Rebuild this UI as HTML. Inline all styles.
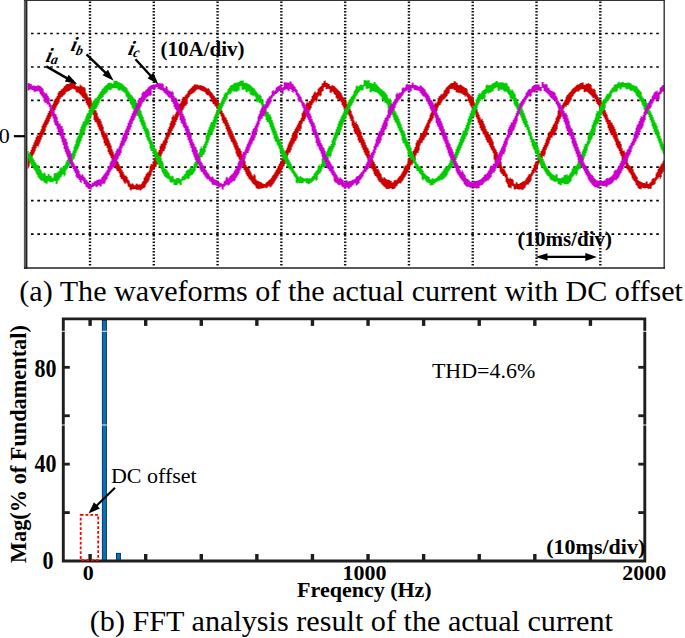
<!DOCTYPE html>
<html><head><meta charset="utf-8"><style>
html,body{margin:0;padding:0;background:#fff;}
body{width:685px;height:638px;overflow:hidden;font-family:"Liberation Serif",serif;}
svg{display:block;}
</style></head><body>
<svg width="685" height="638" viewBox="0 0 685 638">
<rect x="0" y="0" width="685" height="638" fill="#fff"/>
<line x1="31" y1="33.5" x2="661" y2="33.5" stroke="#000" stroke-width="1.7" stroke-dasharray="2.6 3.78"/>
<line x1="31" y1="67" x2="661" y2="67" stroke="#000" stroke-width="1.7" stroke-dasharray="2.6 3.78"/>
<line x1="31" y1="100.4" x2="661" y2="100.4" stroke="#000" stroke-width="1.7" stroke-dasharray="2.6 3.78"/>
<line x1="31" y1="133.8" x2="661" y2="133.8" stroke="#000" stroke-width="1.7" stroke-dasharray="2.6 3.78"/>
<line x1="31" y1="167.2" x2="661" y2="167.2" stroke="#000" stroke-width="1.7" stroke-dasharray="2.6 3.78"/>
<line x1="31" y1="200.6" x2="661" y2="200.6" stroke="#000" stroke-width="1.7" stroke-dasharray="2.6 3.78"/>
<line x1="31" y1="234.1" x2="661" y2="234.1" stroke="#000" stroke-width="1.7" stroke-dasharray="2.6 3.78"/>
<line x1="90" y1="1.5" x2="90" y2="266.5" stroke="#111" stroke-width="2.4" stroke-dasharray="1.5 1.7"/>
<line x1="153.79" y1="1.5" x2="153.79" y2="266.5" stroke="#111" stroke-width="2.4" stroke-dasharray="1.5 1.7"/>
<line x1="217.58" y1="1.5" x2="217.58" y2="266.5" stroke="#111" stroke-width="2.4" stroke-dasharray="1.5 1.7"/>
<line x1="281.37" y1="1.5" x2="281.37" y2="266.5" stroke="#111" stroke-width="2.4" stroke-dasharray="1.5 1.7"/>
<line x1="345.16" y1="1.5" x2="345.16" y2="266.5" stroke="#111" stroke-width="2.4" stroke-dasharray="1.5 1.7"/>
<line x1="408.95" y1="1.5" x2="408.95" y2="266.5" stroke="#111" stroke-width="2.4" stroke-dasharray="1.5 1.7"/>
<line x1="472.74" y1="1.5" x2="472.74" y2="266.5" stroke="#111" stroke-width="2.4" stroke-dasharray="1.5 1.7"/>
<line x1="536.53" y1="1.5" x2="536.53" y2="266.5" stroke="#111" stroke-width="2.4" stroke-dasharray="1.5 1.7"/>
<line x1="600.32" y1="1.5" x2="600.32" y2="266.5" stroke="#111" stroke-width="2.4" stroke-dasharray="1.5 1.7"/>
<path d="M27.6,157.82h1.05v10.63h-1.05zM28.6,155.65h1.05v10.75h-1.05zM29.6,152.06h1.05v10.47h-1.05zM30.6,149.84h1.05v10.55h-1.05zM31.6,146.94h1.05v10.39h-1.05zM32.6,144.69h1.05v10.44h-1.05zM33.6,142.32h1.05v11.13h-1.05zM34.6,140.05h1.05v11.16h-1.05zM35.6,137.15h1.05v11h-1.05zM36.6,134.88h1.05v11.01h-1.05zM37.6,135.96h1.05v10.8h-1.05zM38.6,133.7h1.05v10.79h-1.05zM39.6,131.56h1.05v10.57h-1.05zM40.6,129.33h1.05v10.54h-1.05zM41.6,125.87h1.05v11.38h-1.05zM42.6,123.67h1.05v11.34h-1.05zM43.6,121.86h1.05v11.72h-1.05zM44.6,119.7h1.05v11.66h-1.05zM45.6,117.43h1.05v9.95h-1.05zM46.6,115.32h1.05v9.88h-1.05zM47.6,112.96h1.05v10.8h-1.05zM48.6,110.92h1.05v10.71h-1.05zM49.6,109.7h1.05v9.4h-1.05zM50.6,107.74h1.05v9.29h-1.05zM51.6,105.28h1.05v8.13h-1.05zM52.6,103.42h1.05v7.99h-1.05zM53.6,100.6h1.05v11.24h-1.05zM54.6,98.86h1.05v11.07h-1.05zM55.6,97.66h1.05v10h-1.05zM56.6,96.06h1.05v9.81h-1.05zM57.6,92.64h1.05v11.54h-1.05zM58.6,91.2h1.05v11.33h-1.05zM59.6,91.1h1.05v7.8h-1.05zM60.6,89.84h1.05v7.57h-1.05zM61.6,88.98h1.05v7.98h-1.05zM62.6,87.91h1.05v7.74h-1.05zM63.6,86.37h1.05v8.77h-1.05zM64.6,85.52h1.05v8.53h-1.05zM65.6,84.52h1.05v7.76h-1.05zM66.6,83.89h1.05v7.53h-1.05zM67.6,84.11h1.05v7.45h-1.05zM68.6,83.72h1.05v7.25h-1.05zM69.6,82.88h1.05v7.24h-1.05zM70.6,82.74h1.05v7.07h-1.05zM71.6,80.81h1.05v7.87h-1.05zM72.6,80.81h1.05v7.94h-1.05zM73.6,82.38h1.05v6.9h-1.05zM74.6,82.58h1.05v7.08h-1.05zM75.6,86.03h1.05v5.93h-1.05zM76.6,86.48h1.05v6.15h-1.05zM77.6,86.05h1.05v6.51h-1.05zM78.6,86.73h1.05v6.75h-1.05zM79.6,84.54h1.05v9.87h-1.05zM80.6,85.46h1.05v10.13h-1.05zM81.6,86.15h1.05v10.54h-1.05zM82.6,87.29h1.05v10.8h-1.05zM83.6,86.95h1.05v11.6h-1.05zM84.6,88.29h1.05v11.84h-1.05zM85.6,92.63h1.05v10.61h-1.05zM86.6,94.16h1.05v10.83h-1.05zM87.6,96.8h1.05v10.01h-1.05zM88.6,98.49h1.05v10.21h-1.05zM89.6,97.78h1.05v12.84h-1.05zM90.6,99.61h1.05v13.01h-1.05zM91.6,102.63h1.05v10h-1.05zM92.6,104.58h1.05v10.14h-1.05zM93.6,107.63h1.05v12.47h-1.05zM94.6,109.69h1.05v12.59h-1.05zM95.6,110.54h1.05v11.8h-1.05zM96.6,112.69h1.05v11.9h-1.05zM97.6,116.38h1.05v10.85h-1.05zM98.6,118.59h1.05v10.92h-1.05zM99.6,118.99h1.05v11.93h-1.05zM100.6,121.25h1.05v11.98h-1.05zM101.6,124.14h1.05v12.77h-1.05zM102.6,126.44h1.05v12.79h-1.05zM103.6,130.99h1.05v12.37h-1.05zM104.6,133.3h1.05v12.38h-1.05zM105.6,132.43h1.05v13.37h-1.05zM106.6,134.76h1.05v13.36h-1.05zM107.6,138.24h1.05v13.8h-1.05zM108.6,140.57h1.05v13.77h-1.05zM109.6,143.24h1.05v12.61h-1.05zM110.6,145.55h1.05v12.55h-1.05zM111.6,149.19h1.05v10.84h-1.05zM112.6,151.46h1.05v10.75h-1.05zM113.6,154.41h1.05v9.71h-1.05zM114.6,156.62h1.05v9.59h-1.05zM115.6,158.94h1.05v10.41h-1.05zM116.6,161.09h1.05v10.26h-1.05zM117.6,162.1h1.05v9.27h-1.05zM118.6,164.15h1.05v9.09h-1.05zM119.6,166.27h1.05v10.78h-1.05zM120.6,168.19h1.05v10.57h-1.05zM121.6,170.13h1.05v9.09h-1.05zM122.6,171.9h1.05v8.84h-1.05zM123.6,174.18h1.05v8.45h-1.05zM124.6,175.77h1.05v8.18h-1.05zM125.6,175.59h1.05v6.86h-1.05zM126.6,176.95h1.05v6.58h-1.05zM127.6,179.43h1.05v7.01h-1.05zM128.6,180.55h1.05v6.73h-1.05zM129.6,183.28h1.05v6.5h-1.05zM130.6,184.13h1.05v6.25h-1.05zM131.6,183.24h1.05v5.89h-1.05zM132.6,183.79h1.05v5.66h-1.05zM133.6,185.13h1.05v3.85h-1.05zM134.6,185.37h1.05v3.68h-1.05zM135.6,183.67h1.05v6.17h-1.05zM136.6,183.44h1.05v6.34h-1.05zM137.6,184.72h1.05v5.21h-1.05zM138.6,184.19h1.05v5.43h-1.05zM139.6,184.73h1.05v5.97h-1.05zM140.6,183.89h1.05v6.23h-1.05zM141.6,182.22h1.05v6.8h-1.05zM142.6,181.11h1.05v7.08h-1.05zM143.6,177.66h1.05v10.5h-1.05zM144.6,176.31h1.05v10.77h-1.05zM145.6,173.95h1.05v10.47h-1.05zM146.6,172.38h1.05v10.73h-1.05zM147.6,172.23h1.05v9.47h-1.05zM148.6,170.47h1.05v9.72h-1.05zM149.6,165.9h1.05v11.28h-1.05zM150.6,164h1.05v11.5h-1.05zM151.6,164.6h1.05v7.21h-1.05zM152.6,162.57h1.05v7.39h-1.05zM153.6,159.64h1.05v9.61h-1.05zM154.6,157.52h1.05v9.76h-1.05zM155.6,155.43h1.05v11.2h-1.05zM156.6,153.25h1.05v11.31h-1.05zM157.6,152.14h1.05v11.82h-1.05zM158.6,149.91h1.05v11.9h-1.05zM159.6,146.09h1.05v12.63h-1.05zM160.6,143.83h1.05v12.67h-1.05zM161.6,143.52h1.05v10.18h-1.05zM162.6,141.25h1.05v10.2h-1.05zM163.6,139.86h1.05v11.2h-1.05zM164.6,137.6h1.05v11.2h-1.05zM165.6,134.4h1.05v10.87h-1.05zM166.6,132.14h1.05v10.85h-1.05zM167.6,129.07h1.05v10.16h-1.05zM168.6,126.84h1.05v10.13h-1.05zM169.6,123.25h1.05v11.92h-1.05zM170.6,121.05h1.05v11.87h-1.05zM171.6,117h1.05v14.05h-1.05zM172.6,114.85h1.05v13.99h-1.05zM173.6,116.15h1.05v10.99h-1.05zM174.6,114.06h1.05v10.91h-1.05zM175.6,112.27h1.05v9.75h-1.05zM176.6,110.24h1.05v9.65h-1.05zM177.6,105.92h1.05v11.66h-1.05zM178.6,103.98h1.05v11.54h-1.05zM179.6,103.34h1.05v11.6h-1.05zM180.6,101.51h1.05v11.46h-1.05zM181.6,98.52h1.05v13.06h-1.05zM182.6,96.81h1.05v12.89h-1.05zM183.6,96.99h1.05v10.8h-1.05zM184.6,95.43h1.05v10.61h-1.05zM185.6,94.6h1.05v11h-1.05zM186.6,93.2h1.05v10.79h-1.05zM187.6,91.09h1.05v7.3h-1.05zM188.6,89.87h1.05v7.06h-1.05zM189.6,88.91h1.05v6.69h-1.05zM190.6,87.89h1.05v6.45h-1.05zM191.6,86.73h1.05v7.33h-1.05zM192.6,85.93h1.05v7.09h-1.05zM193.6,84.87h1.05v7.55h-1.05zM194.6,84.3h1.05v7.32h-1.05zM195.6,84.65h1.05v5.5h-1.05zM196.6,84.32h1.05v5.3h-1.05zM197.6,85.22h1.05v4.32h-1.05zM198.6,85.13h1.05v4.16h-1.05zM199.6,85.19h1.05v5.08h-1.05zM200.6,85.21h1.05v5.23h-1.05zM201.6,85.7h1.05v5.37h-1.05zM202.6,85.96h1.05v5.56h-1.05zM203.6,86.39h1.05v5.35h-1.05zM204.6,86.89h1.05v5.57h-1.05zM205.6,87.91h1.05v6.36h-1.05zM206.6,88.65h1.05v6.61h-1.05zM207.6,88.03h1.05v6.98h-1.05zM208.6,89h1.05v7.23h-1.05zM209.6,90.73h1.05v6.9h-1.05zM210.6,91.91h1.05v7.15h-1.05zM211.6,93.08h1.05v9.23h-1.05zM212.6,94.47h1.05v9.47h-1.05zM213.6,95.78h1.05v8.74h-1.05zM214.6,97.34h1.05v8.96h-1.05zM215.6,98.16h1.05v8.6h-1.05zM216.6,99.88h1.05v8.79h-1.05zM217.6,101.02h1.05v10.01h-1.05zM218.6,102.89h1.05v10.17h-1.05zM219.6,107.26h1.05v7.04h-1.05zM220.6,109.25h1.05v7.17h-1.05zM221.6,110.84h1.05v9.61h-1.05zM222.6,112.93h1.05v9.72h-1.05zM223.6,114.54h1.05v9.13h-1.05zM224.6,116.71h1.05v9.22h-1.05zM225.6,117.8h1.05v11.44h-1.05zM226.6,120.02h1.05v11.51h-1.05zM227.6,122.38h1.05v12.13h-1.05zM228.6,124.65h1.05v12.17h-1.05zM229.6,126.93h1.05v12.18h-1.05zM230.6,129.23h1.05v12.21h-1.05zM231.6,131.26h1.05v11.28h-1.05zM232.6,133.58h1.05v11.29h-1.05zM233.6,136.15h1.05v11.26h-1.05zM234.6,138.47h1.05v11.24h-1.05zM235.6,140.38h1.05v13.47h-1.05zM236.6,142.7h1.05v13.43h-1.05zM237.6,145.41h1.05v11.87h-1.05zM238.6,147.71h1.05v11.81h-1.05zM239.6,148.7h1.05v11.71h-1.05zM240.6,150.96h1.05v11.62h-1.05zM241.6,154.23h1.05v10.85h-1.05zM242.6,156.44h1.05v10.72h-1.05zM243.6,159.21h1.05v10.7h-1.05zM244.6,161.33h1.05v10.54h-1.05zM245.6,164.92h1.05v9.21h-1.05zM246.6,166.94h1.05v9.02h-1.05zM247.6,166.29h1.05v11.2h-1.05zM248.6,168.18h1.05v10.98h-1.05zM249.6,170.78h1.05v9.05h-1.05zM250.6,172.5h1.05v8.8h-1.05zM251.6,174.79h1.05v7.94h-1.05zM252.6,176.33h1.05v7.67h-1.05zM253.6,173.91h1.05v10.76h-1.05zM254.6,175.22h1.05v10.49h-1.05zM255.6,179.51h1.05v8.47h-1.05zM256.6,180.57h1.05v8.2h-1.05zM257.6,180.67h1.05v8.17h-1.05zM258.6,181.45h1.05v7.92h-1.05zM259.6,181.89h1.05v6.7h-1.05zM260.6,182.37h1.05v6.49h-1.05zM261.6,183.26h1.05v5.1h-1.05zM262.6,183.43h1.05v4.94h-1.05zM263.6,184.02h1.05v3.65h-1.05zM264.6,183.72h1.05v3.83h-1.05zM265.6,182.6h1.05v5.58h-1.05zM266.6,182h1.05v5.81h-1.05zM267.6,181.01h1.05v5.62h-1.05zM268.6,180.12h1.05v5.88h-1.05zM269.6,179.28h1.05v8.25h-1.05zM270.6,178.12h1.05v8.53h-1.05zM271.6,176.37h1.05v9.11h-1.05zM272.6,174.96h1.05v9.39h-1.05zM273.6,173.46h1.05v9.2h-1.05zM274.6,171.85h1.05v9.46h-1.05zM275.6,169.98h1.05v9.59h-1.05zM276.6,168.19h1.05v9.83h-1.05zM277.6,165.91h1.05v10.24h-1.05zM278.6,163.98h1.05v10.45h-1.05zM279.6,162.82h1.05v10.95h-1.05zM280.6,160.77h1.05v11.12h-1.05zM281.6,158.66h1.05v10.65h-1.05zM282.6,156.52h1.05v10.79h-1.05zM283.6,153.56h1.05v12.45h-1.05zM284.6,151.37h1.05v12.55h-1.05zM285.6,149.77h1.05v10.36h-1.05zM286.6,147.53h1.05v10.43h-1.05zM287.6,144.51h1.05v10.53h-1.05zM288.6,142.25h1.05v10.57h-1.05zM289.6,140.34h1.05v12.25h-1.05zM290.6,138.07h1.05v12.26h-1.05zM291.6,134.85h1.05v12.23h-1.05zM292.6,132.58h1.05v12.23h-1.05zM293.6,131.07h1.05v12.55h-1.05zM294.6,128.82h1.05v12.53h-1.05zM295.6,127.36h1.05v13.05h-1.05zM296.6,125.14h1.05v13.01h-1.05zM297.6,123.13h1.05v9.76h-1.05zM298.6,120.95h1.05v9.71h-1.05zM299.6,120.22h1.05v10.78h-1.05zM300.6,118.08h1.05v10.71h-1.05zM301.6,113.23h1.05v10.52h-1.05zM302.6,111.15h1.05v10.44h-1.05zM303.6,108.92h1.05v12.38h-1.05zM304.6,106.92h1.05v12.27h-1.05zM305.6,103.4h1.05v13.38h-1.05zM306.6,101.48h1.05v13.26h-1.05zM307.6,102.94h1.05v9.79h-1.05zM308.6,101.13h1.05v9.64h-1.05zM309.6,100.93h1.05v9.2h-1.05zM310.6,99.25h1.05v9.03h-1.05zM311.6,96.12h1.05v8.79h-1.05zM312.6,94.58h1.05v8.6h-1.05zM313.6,92.52h1.05v9.35h-1.05zM314.6,91.16h1.05v9.13h-1.05zM315.6,93.08h1.05v9.12h-1.05zM316.6,91.9h1.05v8.89h-1.05zM317.6,88.77h1.05v8.04h-1.05zM318.6,87.8h1.05v7.8h-1.05zM319.6,86.73h1.05v9.7h-1.05zM320.6,85.98h1.05v9.46h-1.05zM321.6,83.42h1.05v8.29h-1.05zM322.6,82.9h1.05v8.07h-1.05zM323.6,80.9h1.05v6.66h-1.05zM324.6,80.62h1.05v6.47h-1.05zM325.6,82.84h1.05v6.42h-1.05zM326.6,82.79h1.05v6.27h-1.05zM327.6,83.87h1.05v4.95h-1.05zM328.6,83.94h1.05v5.11h-1.05zM329.6,85.82h1.05v6.67h-1.05zM330.6,86.13h1.05v6.87h-1.05zM331.6,85.08h1.05v6.38h-1.05zM332.6,85.64h1.05v6.61h-1.05zM333.6,85.84h1.05v8.23h-1.05zM334.6,86.63h1.05v8.48h-1.05zM335.6,87.98h1.05v9.66h-1.05zM336.6,88.99h1.05v9.92h-1.05zM337.6,89.83h1.05v8.88h-1.05zM338.6,91.06h1.05v9.13h-1.05zM339.6,91.63h1.05v9.01h-1.05zM340.6,93.05h1.05v9.24h-1.05zM341.6,95.29h1.05v9.64h-1.05zM342.6,96.89h1.05v9.85h-1.05zM343.6,98.23h1.05v11.19h-1.05zM344.6,99.99h1.05v11.38h-1.05zM345.6,101.82h1.05v9.7h-1.05zM346.6,103.71h1.05v9.86h-1.05zM347.6,105.25h1.05v8.92h-1.05zM348.6,107.25h1.05v9.05h-1.05zM349.6,108.67h1.05v10.07h-1.05zM350.6,110.77h1.05v10.18h-1.05zM351.6,114.17h1.05v11.63h-1.05zM352.6,116.35h1.05v11.72h-1.05zM353.6,120.4h1.05v11.37h-1.05zM354.6,122.63h1.05v11.43h-1.05zM355.6,121.61h1.05v12.82h-1.05zM356.6,123.89h1.05v12.86h-1.05zM357.6,125.26h1.05v14.96h-1.05zM358.6,127.56h1.05v14.98h-1.05zM359.6,129.77h1.05v13.05h-1.05zM360.6,132.09h1.05v13.05h-1.05zM361.6,135.8h1.05v11.9h-1.05zM362.6,138.13h1.05v11.87h-1.05zM363.6,139.84h1.05v12.67h-1.05zM364.6,142.15h1.05v12.63h-1.05zM365.6,145.07h1.05v11.06h-1.05zM366.6,147.37h1.05v10.99h-1.05zM367.6,148.53h1.05v12.23h-1.05zM368.6,150.78h1.05v12.13h-1.05zM369.6,154.69h1.05v11.49h-1.05zM370.6,156.87h1.05v11.36h-1.05zM371.6,158.2h1.05v11.13h-1.05zM372.6,160.3h1.05v10.97h-1.05zM373.6,162.07h1.05v12.26h-1.05zM374.6,164.06h1.05v12.06h-1.05zM375.6,167.28h1.05v9.23h-1.05zM376.6,169.13h1.05v8.99h-1.05zM377.6,168.83h1.05v11.44h-1.05zM378.6,170.52h1.05v11.19h-1.05zM379.6,172.64h1.05v9.57h-1.05zM380.6,174.13h1.05v9.3h-1.05zM381.6,177.17h1.05v7.64h-1.05zM382.6,178.43h1.05v7.36h-1.05zM383.6,177.02h1.05v9.81h-1.05zM384.6,178.03h1.05v9.54h-1.05zM385.6,178.94h1.05v9.82h-1.05zM386.6,179.66h1.05v9.58h-1.05zM387.6,179.57h1.05v9.19h-1.05zM388.6,179.98h1.05v8.99h-1.05zM389.6,180.6h1.05v7.56h-1.05zM390.6,180.65h1.05v7.51h-1.05zM391.6,182.6h1.05v6.75h-1.05zM392.6,182.23h1.05v6.95h-1.05zM393.6,180.44h1.05v8.32h-1.05zM394.6,179.77h1.05v8.56h-1.05zM395.6,180.29h1.05v6.18h-1.05zM396.6,179.33h1.05v6.45h-1.05zM397.6,177.65h1.05v6.24h-1.05zM398.6,176.43h1.05v6.52h-1.05zM399.6,175.82h1.05v8.01h-1.05zM400.6,174.36h1.05v8.28h-1.05zM401.6,172.29h1.05v9.31h-1.05zM402.6,170.63h1.05v9.57h-1.05zM403.6,167.38h1.05v10.87h-1.05zM404.6,165.56h1.05v11.1h-1.05zM405.6,165.47h1.05v9.86h-1.05zM406.6,163.51h1.05v10.06h-1.05zM407.6,159.48h1.05v12.23h-1.05zM408.6,157.41h1.05v12.39h-1.05zM409.6,155.1h1.05v11.64h-1.05zM410.6,152.95h1.05v11.77h-1.05zM411.6,153.18h1.05v11.57h-1.05zM412.6,150.98h1.05v11.67h-1.05zM413.6,149.29h1.05v13.16h-1.05zM414.6,147.05h1.05v13.23h-1.05zM415.6,142.64h1.05v12.59h-1.05zM416.6,140.37h1.05v12.63h-1.05zM417.6,140.31h1.05v12.4h-1.05zM418.6,138.04h1.05v12.41h-1.05zM419.6,135.24h1.05v10.33h-1.05zM420.6,132.97h1.05v10.32h-1.05zM421.6,133.26h1.05v9.61h-1.05zM422.6,131.02h1.05v9.59h-1.05zM423.6,128.79h1.05v11.04h-1.05zM424.6,126.57h1.05v11h-1.05zM425.6,124.58h1.05v11.88h-1.05zM426.6,122.4h1.05v11.83h-1.05zM427.6,120.12h1.05v9.93h-1.05zM428.6,117.99h1.05v9.86h-1.05zM429.6,114.5h1.05v9.33h-1.05zM430.6,112.44h1.05v9.24h-1.05zM431.6,108.7h1.05v11.91h-1.05zM432.6,106.71h1.05v11.8h-1.05zM433.6,104.44h1.05v10.96h-1.05zM434.6,102.55h1.05v10.83h-1.05zM435.6,103.55h1.05v9.08h-1.05zM436.6,101.77h1.05v8.93h-1.05zM437.6,97.98h1.05v9.44h-1.05zM438.6,96.33h1.05v9.26h-1.05zM439.6,95.4h1.05v9.55h-1.05zM440.6,93.9h1.05v9.34h-1.05zM441.6,94.53h1.05v6.86h-1.05zM442.6,93.2h1.05v6.64h-1.05zM443.6,90.62h1.05v8.9h-1.05zM444.6,89.49h1.05v8.66h-1.05zM445.6,87.71h1.05v9.54h-1.05zM446.6,86.79h1.05v9.3h-1.05zM447.6,85.63h1.05v8.47h-1.05zM448.6,84.93h1.05v8.24h-1.05zM449.6,83.82h1.05v5.52h-1.05zM450.6,83.36h1.05v5.3h-1.05zM451.6,83.12h1.05v6.11h-1.05zM452.6,82.89h1.05v5.93h-1.05zM453.6,81.36h1.05v8.78h-1.05zM454.6,81.37h1.05v8.65h-1.05zM455.6,82.6h1.05v9.59h-1.05zM456.6,82.72h1.05v9.76h-1.05zM457.6,84.88h1.05v7.7h-1.05zM458.6,85.25h1.05v7.91h-1.05zM459.6,84.52h1.05v8.32h-1.05zM460.6,85.12h1.05v8.56h-1.05zM461.6,85.71h1.05v7.83h-1.05zM462.6,86.55h1.05v8.08h-1.05zM463.6,86.99h1.05v8.34h-1.05zM464.6,88.05h1.05v8.59h-1.05zM465.6,87.96h1.05v7.74h-1.05zM466.6,89.23h1.05v7.99h-1.05zM467.6,92.6h1.05v8.36h-1.05zM468.6,94.06h1.05v8.59h-1.05zM469.6,94.69h1.05v10.47h-1.05zM470.6,96.32h1.05v10.68h-1.05zM471.6,95.56h1.05v11h-1.05zM472.6,97.35h1.05v11.18h-1.05zM473.6,101.94h1.05v9.55h-1.05zM474.6,103.86h1.05v9.71h-1.05zM475.6,107.16h1.05v9.97h-1.05zM476.6,109.19h1.05v10.1h-1.05zM477.6,112.26h1.05v10.25h-1.05zM478.6,114.38h1.05v10.35h-1.05zM479.6,117.23h1.05v10.73h-1.05zM480.6,119.42h1.05v10.81h-1.05zM481.6,118.7h1.05v12.91h-1.05zM482.6,120.95h1.05v12.96h-1.05zM483.6,123.72h1.05v11.49h-1.05zM484.6,126h1.05v11.53h-1.05zM485.6,128.97h1.05v11.05h-1.05zM486.6,131.28h1.05v11.06h-1.05zM487.6,131.75h1.05v10.97h-1.05zM488.6,134.08h1.05v10.96h-1.05zM489.6,134.95h1.05v12.21h-1.05zM490.6,137.28h1.05v12.19h-1.05zM491.6,139.31h1.05v11.39h-1.05zM492.6,141.62h1.05v11.34h-1.05zM493.6,145.97h1.05v13.57h-1.05zM494.6,148.25h1.05v13.5h-1.05zM495.6,149.65h1.05v12.1h-1.05zM496.6,151.89h1.05v11.99h-1.05zM497.6,154.52h1.05v11.49h-1.05zM498.6,156.69h1.05v11.35h-1.05zM499.6,159.69h1.05v11.94h-1.05zM500.6,161.77h1.05v11.77h-1.05zM501.6,166.49h1.05v7.64h-1.05zM502.6,168.46h1.05v7.44h-1.05zM503.6,168.55h1.05v7.47h-1.05zM504.6,170.38h1.05v7.23h-1.05zM505.6,172.68h1.05v9.65h-1.05zM506.6,174.33h1.05v9.38h-1.05zM507.6,177.53h1.05v9.19h-1.05zM508.6,178.97h1.05v8.91h-1.05zM509.6,177.55h1.05v9.97h-1.05zM510.6,178.75h1.05v9.69h-1.05zM511.6,178.81h1.05v6.86h-1.05zM512.6,179.76h1.05v6.59h-1.05zM513.6,183.49h1.05v5.82h-1.05zM514.6,184.14h1.05v5.58h-1.05zM515.6,182.24h1.05v6.59h-1.05zM516.6,182.59h1.05v6.4h-1.05zM517.6,183.99h1.05v5.4h-1.05zM518.6,183.91h1.05v5.48h-1.05zM519.6,183.1h1.05v6.37h-1.05zM520.6,182.66h1.05v6.58h-1.05zM521.6,181.95h1.05v7.99h-1.05zM522.6,181.21h1.05v8.24h-1.05zM523.6,181.37h1.05v7.05h-1.05zM524.6,180.35h1.05v7.32h-1.05zM525.6,178.42h1.05v7.16h-1.05zM526.6,177.14h1.05v7.44h-1.05zM527.6,175.46h1.05v9.3h-1.05zM528.6,173.96h1.05v9.57h-1.05zM529.6,174.31h1.05v7.72h-1.05zM530.6,172.62h1.05v7.97h-1.05zM531.6,169.98h1.05v6.23h-1.05zM532.6,168.12h1.05v6.46h-1.05zM533.6,164.78h1.05v8.2h-1.05zM534.6,162.79h1.05v8.39h-1.05zM535.6,163.17h1.05v7.99h-1.05zM536.6,161.08h1.05v8.14h-1.05zM537.6,156.27h1.05v8.92h-1.05zM538.6,154.11h1.05v9.04h-1.05zM539.6,153.22h1.05v9.05h-1.05zM540.6,151h1.05v9.14h-1.05zM541.6,149.17h1.05v9.06h-1.05zM542.6,146.92h1.05v9.12h-1.05zM543.6,144.89h1.05v11.86h-1.05zM544.6,142.63h1.05v11.89h-1.05zM545.6,139.59h1.05v10.46h-1.05zM546.6,137.32h1.05v10.46h-1.05zM547.6,134.01h1.05v11.83h-1.05zM548.6,131.75h1.05v11.82h-1.05zM549.6,131.26h1.05v8.87h-1.05zM550.6,129.02h1.05v8.84h-1.05zM551.6,127.04h1.05v10.49h-1.05zM552.6,124.83h1.05v10.44h-1.05zM553.6,123.53h1.05v12.21h-1.05zM554.6,121.36h1.05v12.15h-1.05zM555.6,117.85h1.05v13.48h-1.05zM556.6,115.74h1.05v13.4h-1.05zM557.6,110.46h1.05v13.52h-1.05zM558.6,108.41h1.05v13.42h-1.05zM559.6,109.92h1.05v9.34h-1.05zM560.6,107.95h1.05v9.23h-1.05zM561.6,105.03h1.05v6.38h-1.05zM562.6,103.16h1.05v6.25h-1.05zM563.6,101.55h1.05v6.66h-1.05zM564.6,99.79h1.05v6.5h-1.05zM565.6,96.64h1.05v10.28h-1.05zM566.6,95.02h1.05v10.1h-1.05zM567.6,94.31h1.05v10.82h-1.05zM568.6,92.85h1.05v10.62h-1.05zM569.6,91.9h1.05v9.76h-1.05zM570.6,90.62h1.05v9.53h-1.05zM571.6,89.33h1.05v8.02h-1.05zM572.6,88.24h1.05v7.78h-1.05zM573.6,87.6h1.05v6.74h-1.05zM574.6,86.73h1.05v6.5h-1.05zM575.6,85.52h1.05v6.6h-1.05zM576.6,84.87h1.05v6.36h-1.05zM577.6,84.56h1.05v7.29h-1.05zM578.6,84.15h1.05v7.08h-1.05zM579.6,83.29h1.05v6.52h-1.05zM580.6,83.11h1.05v6.35h-1.05zM581.6,82.54h1.05v6.72h-1.05zM582.6,82.54h1.05v6.72h-1.05zM583.6,84.73h1.05v7.24h-1.05zM584.6,84.91h1.05v7.42h-1.05zM585.6,83.56h1.05v7.7h-1.05zM586.6,83.98h1.05v7.92h-1.05zM587.6,83.07h1.05v9.74h-1.05zM588.6,83.73h1.05v9.98h-1.05zM589.6,84.06h1.05v10.39h-1.05zM590.6,84.95h1.05v10.65h-1.05zM591.6,88.18h1.05v8.69h-1.05zM592.6,89.29h1.05v8.94h-1.05zM593.6,88.56h1.05v9.1h-1.05zM594.6,89.88h1.05v9.34h-1.05zM595.6,93.6h1.05v8.54h-1.05zM596.6,95.11h1.05v8.77h-1.05zM597.6,97h1.05v7.99h-1.05zM598.6,98.67h1.05v8.19h-1.05zM599.6,100.22h1.05v10.25h-1.05zM600.6,102.04h1.05v10.43h-1.05zM601.6,102.5h1.05v11.21h-1.05zM602.6,104.45h1.05v11.35h-1.05zM603.6,107.92h1.05v9.49h-1.05zM604.6,109.97h1.05v9.61h-1.05zM605.6,112.44h1.05v9.57h-1.05zM606.6,114.57h1.05v9.66h-1.05zM607.6,117.83h1.05v10.4h-1.05zM608.6,120.03h1.05v10.47h-1.05zM609.6,119.98h1.05v12.9h-1.05zM610.6,122.24h1.05v12.95h-1.05zM611.6,122.74h1.05v12.39h-1.05zM612.6,125.03h1.05v12.42h-1.05zM613.6,126.66h1.05v12.79h-1.05zM614.6,128.98h1.05v12.8h-1.05zM615.6,131.71h1.05v13.58h-1.05zM616.6,134.03h1.05v13.57h-1.05zM617.6,138.5h1.05v10.2h-1.05zM618.6,140.83h1.05v10.17h-1.05zM619.6,141.57h1.05v12.28h-1.05zM620.6,143.88h1.05v12.22h-1.05zM621.6,148.35h1.05v11.8h-1.05zM622.6,150.63h1.05v11.72h-1.05zM623.6,150.38h1.05v11.55h-1.05zM624.6,152.61h1.05v11.43h-1.05zM625.6,156.61h1.05v10.67h-1.05zM626.6,158.77h1.05v10.52h-1.05zM627.6,163.21h1.05v7.4h-1.05zM628.6,165.27h1.05v7.22h-1.05zM629.6,165.69h1.05v7.87h-1.05zM630.6,167.63h1.05v7.65h-1.05zM631.6,167.51h1.05v10.72h-1.05zM632.6,169.3h1.05v10.47h-1.05zM633.6,172.17h1.05v8.89h-1.05zM634.6,173.78h1.05v8.63h-1.05zM635.6,175.46h1.05v9.66h-1.05zM636.6,176.86h1.05v9.38h-1.05zM637.6,179.93h1.05v8.14h-1.05zM638.6,181.08h1.05v7.86h-1.05zM639.6,181.17h1.05v7.61h-1.05zM640.6,182.05h1.05v7.35h-1.05zM641.6,182.3h1.05v5.42h-1.05zM642.6,182.89h1.05v5.2h-1.05zM643.6,183.06h1.05v5.23h-1.05zM644.6,183.34h1.05v5.05h-1.05zM645.6,181.58h1.05v6.4h-1.05zM646.6,181.39h1.05v6.57h-1.05zM647.6,184h1.05v4.88h-1.05zM648.6,183.5h1.05v5.09h-1.05zM649.6,182.41h1.05v6.61h-1.05zM650.6,181.61h1.05v6.86h-1.05zM651.6,179.07h1.05v6.7h-1.05zM652.6,178h1.05v6.97h-1.05zM653.6,178.47h1.05v6.2h-1.05zM654.6,177.15h1.05v6.48h-1.05zM655.6,173.52h1.05v7.25h-1.05zM656.6,171.97h1.05v7.52h-1.05zM657.6,169.05h1.05v9.37h-1.05zM658.6,167.31h1.05v9.62h-1.05zM659.6,166.34h1.05v12.65h-1.05zM660.6,164.45h1.05v12.87h-1.05zM661.6,163.35h1.05v10.35h-1.05zM662.6,161.34h1.05v10.54h-1.05zM663.6,159.7h1.05v10.24h-1.05z" fill="#cc0000"/>
<path d="M27.6,151h1.05v8.33h-1.05zM28.6,153.35h1.05v8.12h-1.05zM29.6,153.19h1.05v10.14h-1.05zM30.6,155.4h1.05v9.9h-1.05zM31.6,156.31h1.05v9.61h-1.05zM32.6,158.36h1.05v9.35h-1.05zM33.6,160.08h1.05v9.67h-1.05zM34.6,161.94h1.05v9.39h-1.05zM35.6,163.34h1.05v10.24h-1.05zM36.6,165h1.05v9.97h-1.05zM37.6,164.46h1.05v12.9h-1.05zM38.6,165.89h1.05v12.63h-1.05zM39.6,169.09h1.05v10.61h-1.05zM40.6,170.29h1.05v10.35h-1.05zM41.6,172.81h1.05v7.68h-1.05zM42.6,173.78h1.05v7.45h-1.05zM43.6,172.6h1.05v9.77h-1.05zM44.6,173.33h1.05v9.57h-1.05zM45.6,175.51h1.05v7.92h-1.05zM46.6,176h1.05v7.75h-1.05zM47.6,173.89h1.05v7.46h-1.05zM48.6,174.14h1.05v7.33h-1.05zM49.6,175.76h1.05v6.45h-1.05zM50.6,175.7h1.05v6.51h-1.05zM51.6,177.85h1.05v4.12h-1.05zM52.6,177.54h1.05v4.26h-1.05zM53.6,173.61h1.05v7.74h-1.05zM54.6,173.08h1.05v7.9h-1.05zM55.6,173.32h1.05v10.88h-1.05zM56.6,172.57h1.05v11.07h-1.05zM57.6,171.75h1.05v9h-1.05zM58.6,170.79h1.05v9.21h-1.05zM59.6,168.24h1.05v9.7h-1.05zM60.6,167.06h1.05v9.93h-1.05zM61.6,168.2h1.05v7.1h-1.05zM62.6,166.81h1.05v7.35h-1.05zM63.6,165.76h1.05v10.81h-1.05zM64.6,164.17h1.05v11.06h-1.05zM65.6,161.74h1.05v8.74h-1.05zM66.6,159.96h1.05v8.99h-1.05zM67.6,159.07h1.05v8.61h-1.05zM68.6,157.11h1.05v8.86h-1.05zM69.6,155.83h1.05v8.76h-1.05zM70.6,153.7h1.05v8.99h-1.05zM71.6,152.66h1.05v9.05h-1.05zM72.6,150.39h1.05v9.27h-1.05zM73.6,146.6h1.05v12.15h-1.05zM74.6,144.22h1.05v12.34h-1.05zM75.6,140.23h1.05v12.87h-1.05zM76.6,137.76h1.05v13.01h-1.05zM77.6,135.86h1.05v12.97h-1.05zM78.6,133.33h1.05v13.07h-1.05zM79.6,129.18h1.05v14.27h-1.05zM80.6,126.62h1.05v14.32h-1.05zM81.6,124.34h1.05v13.72h-1.05zM82.6,121.8h1.05v13.71h-1.05zM83.6,121.28h1.05v11.75h-1.05zM84.6,118.78h1.05v11.69h-1.05zM85.6,115.81h1.05v11.54h-1.05zM86.6,113.41h1.05v11.43h-1.05zM87.6,112.71h1.05v12.91h-1.05zM88.6,110.42h1.05v12.75h-1.05zM89.6,108.03h1.05v11.4h-1.05zM90.6,105.88h1.05v11.19h-1.05zM91.6,102.87h1.05v12.11h-1.05zM92.6,100.88h1.05v11.87h-1.05zM93.6,100.1h1.05v10.91h-1.05zM94.6,98.29h1.05v10.65h-1.05zM95.6,98.57h1.05v10.48h-1.05zM96.6,96.96h1.05v10.2h-1.05zM97.6,95.21h1.05v9.74h-1.05zM98.6,93.8h1.05v9.47h-1.05zM99.6,91.95h1.05v8.21h-1.05zM100.6,90.74h1.05v7.94h-1.05zM101.6,89.19h1.05v8.93h-1.05zM102.6,88.19h1.05v8.69h-1.05zM103.6,86.73h1.05v8.28h-1.05zM104.6,85.93h1.05v8.06h-1.05zM105.6,84.88h1.05v8.25h-1.05zM106.6,84.27h1.05v8.06h-1.05zM107.6,82.93h1.05v7.33h-1.05zM108.6,82.51h1.05v7.17h-1.05zM109.6,83.11h1.05v7.1h-1.05zM110.6,82.87h1.05v6.97h-1.05zM111.6,83.63h1.05v4.83h-1.05zM112.6,83.57h1.05v4.72h-1.05zM113.6,80.87h1.05v7.27h-1.05zM114.6,80.88h1.05v7.36h-1.05zM115.6,80.72h1.05v7.47h-1.05zM116.6,80.91h1.05v7.59h-1.05zM117.6,81.94h1.05v8.42h-1.05zM118.6,82.29h1.05v8.56h-1.05zM119.6,82.82h1.05v6.87h-1.05zM120.6,83.34h1.05v7.03h-1.05zM121.6,83.85h1.05v7.08h-1.05zM122.6,84.54h1.05v7.26h-1.05zM123.6,85.79h1.05v6.59h-1.05zM124.6,86.65h1.05v6.79h-1.05zM125.6,87.31h1.05v9.23h-1.05zM126.6,88.35h1.05v9.44h-1.05zM127.6,90.48h1.05v8.88h-1.05zM128.6,91.7h1.05v9.11h-1.05zM129.6,93.5h1.05v9.93h-1.05zM130.6,94.9h1.05v10.17h-1.05zM131.6,95.61h1.05v12.14h-1.05zM132.6,97.19h1.05v12.39h-1.05zM133.6,98.45h1.05v12.16h-1.05zM134.6,100.2h1.05v12.41h-1.05zM135.6,101.16h1.05v12.39h-1.05zM136.6,103.08h1.05v12.62h-1.05zM137.6,104.03h1.05v12.49h-1.05zM138.6,106.11h1.05v12.7h-1.05zM139.6,108.82h1.05v13.28h-1.05zM140.6,111.04h1.05v13.45h-1.05zM141.6,114.53h1.05v11.9h-1.05zM142.6,116.88h1.05v12.04h-1.05zM143.6,119.84h1.05v11.3h-1.05zM144.6,122.28h1.05v11.39h-1.05zM145.6,125.58h1.05v11.39h-1.05zM146.6,128.09h1.05v11.43h-1.05zM147.6,128.64h1.05v12.54h-1.05zM148.6,131.18h1.05v12.53h-1.05zM149.6,137.25h1.05v11.31h-1.05zM150.6,139.79h1.05v11.24h-1.05zM151.6,141.37h1.05v9.66h-1.05zM152.6,143.87h1.05v9.53h-1.05zM153.6,145.73h1.05v9.85h-1.05zM154.6,148.16h1.05v9.68h-1.05zM155.6,149.18h1.05v11.85h-1.05zM156.6,151.5h1.05v11.64h-1.05zM157.6,153.66h1.05v10.77h-1.05zM158.6,155.84h1.05v10.53h-1.05zM159.6,155.73h1.05v11.87h-1.05zM160.6,157.74h1.05v11.6h-1.05zM161.6,160.75h1.05v11.54h-1.05zM162.6,162.56h1.05v11.26h-1.05zM163.6,167.18h1.05v8.53h-1.05zM164.6,168.79h1.05v8.25h-1.05zM165.6,168.99h1.05v8.46h-1.05zM166.6,170.37h1.05v8.19h-1.05zM167.6,171.87h1.05v6.97h-1.05zM168.6,173.02h1.05v6.72h-1.05zM169.6,175.53h1.05v6.75h-1.05zM170.6,176.44h1.05v6.52h-1.05zM171.6,175.6h1.05v6.33h-1.05zM172.6,176.27h1.05v6.14h-1.05zM173.6,178.95h1.05v6.13h-1.05zM174.6,179.39h1.05v5.97h-1.05zM175.6,178.15h1.05v6.74h-1.05zM176.6,178.35h1.05v6.61h-1.05zM177.6,177.9h1.05v5.62h-1.05zM178.6,177.77h1.05v5.74h-1.05zM179.6,179.19h1.05v6.09h-1.05zM180.6,178.83h1.05v6.24h-1.05zM181.6,176.61h1.05v4.2h-1.05zM182.6,176.04h1.05v4.37h-1.05zM183.6,174.55h1.05v5.85h-1.05zM184.6,173.76h1.05v6.04h-1.05zM185.6,171.12h1.05v8.02h-1.05zM186.6,170.11h1.05v8.24h-1.05zM187.6,170.1h1.05v9.43h-1.05zM188.6,168.88h1.05v9.66h-1.05zM189.6,167.6h1.05v8.56h-1.05zM190.6,166.17h1.05v8.8h-1.05zM191.6,168.43h1.05v6.83h-1.05zM192.6,166.8h1.05v7.08h-1.05zM193.6,163.49h1.05v8.99h-1.05zM194.6,161.67h1.05v9.24h-1.05zM195.6,157.5h1.05v10.38h-1.05zM196.6,155.5h1.05v10.63h-1.05zM197.6,154.36h1.05v10.92h-1.05zM198.6,152.2h1.05v11.16h-1.05zM199.6,148.72h1.05v10.42h-1.05zM200.6,146.42h1.05v10.63h-1.05zM201.6,148.25h1.05v9.07h-1.05zM202.6,145.84h1.05v9.25h-1.05zM203.6,144.17h1.05v10.42h-1.05zM204.6,141.68h1.05v10.56h-1.05zM205.6,135.25h1.05v12.63h-1.05zM206.6,132.71h1.05v12.72h-1.05zM207.6,129.81h1.05v13.02h-1.05zM208.6,127.25h1.05v13.05h-1.05zM209.6,124.5h1.05v12.52h-1.05zM210.6,121.97h1.05v12.5h-1.05zM211.6,122.34h1.05v11.93h-1.05zM212.6,119.87h1.05v11.86h-1.05zM213.6,116.53h1.05v13.04h-1.05zM214.6,114.15h1.05v12.91h-1.05zM215.6,111.93h1.05v11.38h-1.05zM216.6,109.67h1.05v11.21h-1.05zM217.6,105.57h1.05v11.34h-1.05zM218.6,103.46h1.05v11.13h-1.05zM219.6,103.23h1.05v9.06h-1.05zM220.6,101.28h1.05v8.81h-1.05zM221.6,98.82h1.05v9.46h-1.05zM222.6,97.06h1.05v9.2h-1.05zM223.6,94.17h1.05v9.76h-1.05zM224.6,92.61h1.05v9.49h-1.05zM225.6,92.85h1.05v7.17h-1.05zM226.6,91.49h1.05v6.9h-1.05zM227.6,89.08h1.05v6.18h-1.05zM228.6,87.92h1.05v5.92h-1.05zM229.6,86.02h1.05v8.77h-1.05zM230.6,85.07h1.05v8.54h-1.05zM231.6,85.1h1.05v6.51h-1.05zM232.6,84.34h1.05v6.29h-1.05zM233.6,83.31h1.05v8.61h-1.05zM234.6,82.74h1.05v8.42h-1.05zM235.6,82.8h1.05v9.16h-1.05zM236.6,82.42h1.05v9.01h-1.05zM237.6,82.2h1.05v8.56h-1.05zM238.6,82h1.05v8.43h-1.05zM239.6,80.72h1.05v5.64h-1.05zM240.6,80.7h1.05v5.54h-1.05zM241.6,80.4h1.05v9.35h-1.05zM242.6,80.46h1.05v9.45h-1.05zM243.6,82.83h1.05v6.53h-1.05zM244.6,83.06h1.05v6.65h-1.05zM245.6,82.86h1.05v9.02h-1.05zM246.6,83.26h1.05v9.16h-1.05zM247.6,83.74h1.05v7.16h-1.05zM248.6,84.3h1.05v7.32h-1.05zM249.6,85.07h1.05v9.07h-1.05zM250.6,85.8h1.05v9.25h-1.05zM251.6,86.75h1.05v8.43h-1.05zM252.6,87.66h1.05v8.63h-1.05zM253.6,88.37h1.05v7.1h-1.05zM254.6,89.45h1.05v7.32h-1.05zM255.6,91.3h1.05v9.64h-1.05zM256.6,92.56h1.05v9.88h-1.05zM257.6,93.64h1.05v7.62h-1.05zM258.6,95.07h1.05v7.86h-1.05zM259.6,94.31h1.05v8.4h-1.05zM260.6,95.92h1.05v8.65h-1.05zM261.6,99.39h1.05v8.97h-1.05zM262.6,101.18h1.05v9.21h-1.05zM263.6,104.06h1.05v10.17h-1.05zM264.6,106.02h1.05v10.39h-1.05zM265.6,109.4h1.05v10.66h-1.05zM266.6,111.51h1.05v10.86h-1.05zM267.6,111.89h1.05v10.01h-1.05zM268.6,114.14h1.05v10.18h-1.05zM269.6,114.44h1.05v12.73h-1.05zM270.6,116.81h1.05v12.86h-1.05zM271.6,119.97h1.05v12.49h-1.05zM272.6,122.43h1.05v12.56h-1.05zM273.6,125.65h1.05v13.11h-1.05zM274.6,128.17h1.05v13.14h-1.05zM275.6,130.84h1.05v11.33h-1.05zM276.6,133.38h1.05v11.3h-1.05zM277.6,136.27h1.05v10.05h-1.05zM278.6,138.8h1.05v9.96h-1.05zM279.6,139.64h1.05v12.55h-1.05zM280.6,142.13h1.05v12.41h-1.05zM281.6,145.31h1.05v11.84h-1.05zM282.6,147.72h1.05v11.65h-1.05zM283.6,149.9h1.05v10.06h-1.05zM284.6,152.19h1.05v9.83h-1.05zM285.6,152.93h1.05v10.83h-1.05zM286.6,155.07h1.05v10.58h-1.05zM287.6,158.15h1.05v9.5h-1.05zM288.6,160.12h1.05v9.23h-1.05zM289.6,161.76h1.05v8.11h-1.05zM290.6,163.54h1.05v7.83h-1.05zM291.6,166.24h1.05v6.69h-1.05zM292.6,167.8h1.05v6.42h-1.05zM293.6,170.26h1.05v6.14h-1.05zM294.6,171.59h1.05v5.88h-1.05zM295.6,173.19h1.05v9.49h-1.05zM296.6,174.29h1.05v9.24h-1.05zM297.6,176.28h1.05v6.24h-1.05zM298.6,177.14h1.05v6.03h-1.05zM299.6,176.07h1.05v6.89h-1.05zM300.6,176.7h1.05v6.71h-1.05zM301.6,177.47h1.05v5.64h-1.05zM302.6,177.86h1.05v5.49h-1.05zM303.6,178.39h1.05v2.99h-1.05zM304.6,178.54h1.05v2.87h-1.05zM305.6,178.24h1.05v5.06h-1.05zM306.6,178.06h1.05v5.19h-1.05zM307.6,178.49h1.05v5.78h-1.05zM308.6,178.08h1.05v5.93h-1.05zM309.6,178.66h1.05v4.57h-1.05zM310.6,178.04h1.05v4.74h-1.05zM311.6,176.54h1.05v5.36h-1.05zM312.6,175.7h1.05v5.55h-1.05zM313.6,173.54h1.05v6.58h-1.05zM314.6,172.48h1.05v6.79h-1.05zM315.6,170.98h1.05v10.07h-1.05zM316.6,169.71h1.05v10.31h-1.05zM317.6,166.08h1.05v8.88h-1.05zM318.6,164.61h1.05v9.13h-1.05zM319.6,165.63h1.05v7.62h-1.05zM320.6,163.95h1.05v7.87h-1.05zM321.6,158.25h1.05v10.45h-1.05zM322.6,156.38h1.05v10.7h-1.05zM323.6,155.93h1.05v11.82h-1.05zM324.6,153.9h1.05v12.07h-1.05zM325.6,152.62h1.05v11.43h-1.05zM326.6,150.42h1.05v11.66h-1.05zM327.6,148.09h1.05v10.18h-1.05zM328.6,145.76h1.05v10.38h-1.05zM329.6,146.37h1.05v11.54h-1.05zM330.6,143.94h1.05v11.7h-1.05zM331.6,140.21h1.05v11.63h-1.05zM332.6,137.7h1.05v11.76h-1.05zM333.6,134.83h1.05v12.7h-1.05zM334.6,132.28h1.05v12.78h-1.05zM335.6,129.23h1.05v11.2h-1.05zM336.6,126.68h1.05v11.23h-1.05zM337.6,123.57h1.05v12.23h-1.05zM338.6,121.05h1.05v12.2h-1.05zM339.6,119.32h1.05v13.45h-1.05zM340.6,116.86h1.05v13.36h-1.05zM341.6,115.1h1.05v11.96h-1.05zM342.6,112.74h1.05v11.83h-1.05zM343.6,110.6h1.05v11.52h-1.05zM344.6,108.37h1.05v11.34h-1.05zM345.6,107.57h1.05v10.04h-1.05zM346.6,105.49h1.05v9.82h-1.05zM347.6,101.82h1.05v10.74h-1.05zM348.6,99.91h1.05v10.49h-1.05zM349.6,98.43h1.05v9.49h-1.05zM350.6,96.71h1.05v9.23h-1.05zM351.6,95.73h1.05v8.94h-1.05zM352.6,94.21h1.05v8.66h-1.05zM353.6,90.89h1.05v9.51h-1.05zM354.6,89.57h1.05v9.24h-1.05zM355.6,86.35h1.05v10.04h-1.05zM356.6,85.23h1.05v9.79h-1.05zM357.6,86.65h1.05v6.5h-1.05zM358.6,85.74h1.05v6.26h-1.05zM359.6,84.9h1.05v5.91h-1.05zM360.6,84.19h1.05v5.7h-1.05zM361.6,85.36h1.05v5.47h-1.05zM362.6,84.83h1.05v5.29h-1.05zM363.6,80.29h1.05v6.3h-1.05zM364.6,79.95h1.05v6.15h-1.05zM365.6,80.55h1.05v8.54h-1.05zM366.6,80.39h1.05v8.42h-1.05zM367.6,80.26h1.05v8.13h-1.05zM368.6,80.26h1.05v8.05h-1.05zM369.6,82.98h1.05v9.26h-1.05zM370.6,83.07h1.05v9.36h-1.05zM371.6,83.44h1.05v7.65h-1.05zM372.6,83.7h1.05v7.78h-1.05zM373.6,81.92h1.05v9.61h-1.05zM374.6,82.35h1.05v9.75h-1.05zM375.6,84.12h1.05v7.95h-1.05zM376.6,84.72h1.05v8.11h-1.05zM377.6,86.2h1.05v7.37h-1.05zM378.6,86.97h1.05v7.56h-1.05zM379.6,88.18h1.05v7.51h-1.05zM380.6,89.12h1.05v7.72h-1.05zM381.6,89.63h1.05v10.06h-1.05zM382.6,90.75h1.05v10.28h-1.05zM383.6,91.1h1.05v10.27h-1.05zM384.6,92.39h1.05v10.5h-1.05zM385.6,93.61h1.05v9.53h-1.05zM386.6,95.08h1.05v9.78h-1.05zM387.6,97.81h1.05v10.96h-1.05zM388.6,99.47h1.05v11.21h-1.05zM389.6,98.15h1.05v10.76h-1.05zM390.6,99.98h1.05v11h-1.05zM391.6,104.08h1.05v10.88h-1.05zM392.6,106.07h1.05v11.1h-1.05zM393.6,108.76h1.05v11.18h-1.05zM394.6,110.9h1.05v11.37h-1.05zM395.6,112.47h1.05v10.96h-1.05zM396.6,114.75h1.05v11.12h-1.05zM397.6,116.57h1.05v11.78h-1.05zM398.6,118.97h1.05v11.89h-1.05zM399.6,121.87h1.05v10.99h-1.05zM400.6,124.35h1.05v11.06h-1.05zM401.6,127.49h1.05v13.11h-1.05zM402.6,130.02h1.05v13.12h-1.05zM403.6,131.26h1.05v12.33h-1.05zM404.6,133.81h1.05v12.28h-1.05zM405.6,137.63h1.05v10.52h-1.05zM406.6,140.16h1.05v10.42h-1.05zM407.6,141.39h1.05v13.26h-1.05zM408.6,143.86h1.05v13.11h-1.05zM409.6,145.73h1.05v12.22h-1.05zM410.6,148.11h1.05v12.02h-1.05zM411.6,151.59h1.05v8.28h-1.05zM412.6,153.86h1.05v8.05h-1.05zM413.6,156.36h1.05v7.48h-1.05zM414.6,158.47h1.05v7.22h-1.05zM415.6,161.62h1.05v7.73h-1.05zM416.6,163.55h1.05v7.46h-1.05zM417.6,164.56h1.05v6.69h-1.05zM418.6,166.29h1.05v6.41h-1.05zM419.6,166.26h1.05v7.63h-1.05zM420.6,167.78h1.05v7.36h-1.05zM421.6,169.26h1.05v10.15h-1.05zM422.6,170.54h1.05v9.89h-1.05zM423.6,172.88h1.05v6.12h-1.05zM424.6,173.93h1.05v5.88h-1.05zM425.6,174.97h1.05v6.83h-1.05zM426.6,175.78h1.05v6.62h-1.05zM427.6,176.33h1.05v6.49h-1.05zM428.6,176.9h1.05v6.32h-1.05zM429.6,179.1h1.05v6.13h-1.05zM430.6,179.43h1.05v5.98h-1.05zM431.6,178.17h1.05v6.9h-1.05zM432.6,178.26h1.05v6.8h-1.05zM433.6,178.91h1.05v4.6h-1.05zM434.6,178.68h1.05v4.73h-1.05zM435.6,177.88h1.05v4.16h-1.05zM436.6,177.43h1.05v4.31h-1.05zM437.6,176.05h1.05v5.15h-1.05zM438.6,175.38h1.05v5.33h-1.05zM439.6,174.22h1.05v6.32h-1.05zM440.6,173.33h1.05v6.52h-1.05zM441.6,171.63h1.05v8.41h-1.05zM442.6,170.53h1.05v8.63h-1.05zM443.6,168.7h1.05v9.84h-1.05zM444.6,167.39h1.05v10.08h-1.05zM445.6,167.48h1.05v9.03h-1.05zM446.6,165.96h1.05v9.28h-1.05zM447.6,164.9h1.05v7.61h-1.05zM448.6,163.18h1.05v7.87h-1.05zM449.6,160.46h1.05v9.07h-1.05zM450.6,158.55h1.05v9.33h-1.05zM451.6,156.6h1.05v10.59h-1.05zM452.6,154.52h1.05v10.84h-1.05zM453.6,154.53h1.05v10.09h-1.05zM454.6,152.31h1.05v10.31h-1.05zM455.6,148.91h1.05v11.08h-1.05zM456.6,146.56h1.05v11.27h-1.05zM457.6,144.53h1.05v10.65h-1.05zM458.6,142.08h1.05v10.81h-1.05zM459.6,139.02h1.05v11.41h-1.05zM460.6,136.5h1.05v11.53h-1.05zM461.6,133.42h1.05v12.38h-1.05zM462.6,130.87h1.05v12.44h-1.05zM463.6,130.49h1.05v11.06h-1.05zM464.6,127.94h1.05v11.07h-1.05zM465.6,125.07h1.05v11.64h-1.05zM466.6,122.56h1.05v11.59h-1.05zM467.6,118.74h1.05v12.57h-1.05zM468.6,116.3h1.05v12.47h-1.05zM469.6,113.27h1.05v11.79h-1.05zM470.6,110.94h1.05v11.64h-1.05zM471.6,108.63h1.05v11.07h-1.05zM472.6,106.43h1.05v10.87h-1.05zM473.6,105.23h1.05v11.69h-1.05zM474.6,103.19h1.05v11.46h-1.05zM475.6,99.2h1.05v11.14h-1.05zM476.6,97.34h1.05v10.89h-1.05zM477.6,94.71h1.05v10.54h-1.05zM478.6,93.03h1.05v10.27h-1.05zM479.6,93.92h1.05v7.02h-1.05zM480.6,92.44h1.05v6.75h-1.05zM481.6,91.25h1.05v9.21h-1.05zM482.6,89.98h1.05v8.94h-1.05zM483.6,89.83h1.05v9.32h-1.05zM484.6,88.76h1.05v9.07h-1.05zM485.6,85.25h1.05v8.68h-1.05zM486.6,84.38h1.05v8.45h-1.05zM487.6,85.54h1.05v8.21h-1.05zM488.6,84.86h1.05v8.01h-1.05zM489.6,85.26h1.05v7.55h-1.05zM490.6,84.78h1.05v7.38h-1.05zM491.6,83.45h1.05v8.16h-1.05zM492.6,83.15h1.05v8.02h-1.05zM493.6,82.49h1.05v6.21h-1.05zM494.6,82.37h1.05v6.09h-1.05zM495.6,80.89h1.05v6.51h-1.05zM496.6,80.89h1.05v6.52h-1.05zM497.6,82.36h1.05v8.51h-1.05zM498.6,82.49h1.05v8.62h-1.05zM499.6,82.22h1.05v7.2h-1.05zM500.6,82.52h1.05v7.33h-1.05zM501.6,82.15h1.05v7.45h-1.05zM502.6,82.61h1.05v7.59h-1.05zM503.6,82.9h1.05v8.3h-1.05zM504.6,83.54h1.05v8.47h-1.05zM505.6,82.61h1.05v8.6h-1.05zM506.6,83.42h1.05v8.79h-1.05zM507.6,85.68h1.05v8.38h-1.05zM508.6,86.66h1.05v8.59h-1.05zM509.6,89.27h1.05v8.83h-1.05zM510.6,90.42h1.05v9.06h-1.05zM511.6,89.3h1.05v9.78h-1.05zM512.6,90.64h1.05v10.02h-1.05zM513.6,92.39h1.05v12.18h-1.05zM514.6,93.9h1.05v12.42h-1.05zM515.6,97.47h1.05v10.35h-1.05zM516.6,99.17h1.05v10.59h-1.05zM517.6,102.27h1.05v9.68h-1.05zM518.6,104.14h1.05v9.91h-1.05zM519.6,102.76h1.05v12.85h-1.05zM520.6,104.79h1.05v13.07h-1.05zM521.6,108.28h1.05v12.3h-1.05zM522.6,110.46h1.05v12.49h-1.05zM523.6,113.08h1.05v11.59h-1.05zM524.6,115.39h1.05v11.74h-1.05zM525.6,118.51h1.05v8.96h-1.05zM526.6,120.92h1.05v9.07h-1.05zM527.6,124.15h1.05v9.21h-1.05zM528.6,126.64h1.05v9.26h-1.05zM529.6,129.68h1.05v9.93h-1.05zM530.6,132.22h1.05v9.93h-1.05zM531.6,136.34h1.05v9.77h-1.05zM532.6,138.89h1.05v9.72h-1.05zM533.6,139.19h1.05v11.09h-1.05zM534.6,141.71h1.05v10.98h-1.05zM535.6,141.6h1.05v12.08h-1.05zM536.6,144.06h1.05v11.92h-1.05zM537.6,147.3h1.05v11.11h-1.05zM538.6,149.66h1.05v10.9h-1.05zM539.6,155.01h1.05v9.84h-1.05zM540.6,157.24h1.05v9.6h-1.05zM541.6,157.04h1.05v9.84h-1.05zM542.6,159.11h1.05v9.58h-1.05zM543.6,161.34h1.05v9.14h-1.05zM544.6,163.23h1.05v8.87h-1.05zM545.6,165.96h1.05v8.02h-1.05zM546.6,167.64h1.05v7.74h-1.05zM547.6,168.62h1.05v7.49h-1.05zM548.6,170.09h1.05v7.22h-1.05zM549.6,171.4h1.05v7.82h-1.05zM550.6,172.63h1.05v7.57h-1.05zM551.6,173.68h1.05v6.54h-1.05zM552.6,174.67h1.05v6.31h-1.05zM553.6,175.04h1.05v6.48h-1.05zM554.6,175.79h1.05v6.28h-1.05zM555.6,173.89h1.05v7.4h-1.05zM556.6,174.41h1.05v7.23h-1.05zM557.6,178.09h1.05v6.14h-1.05zM558.6,178.37h1.05v6h-1.05zM559.6,178.29h1.05v7.04h-1.05zM560.6,178.29h1.05v7.05h-1.05zM561.6,177.56h1.05v5.8h-1.05zM562.6,177.28h1.05v5.94h-1.05zM563.6,175.25h1.05v9.2h-1.05zM564.6,174.75h1.05v9.36h-1.05zM565.6,174.85h1.05v9.76h-1.05zM566.6,174.13h1.05v9.94h-1.05zM567.6,175.73h1.05v8.38h-1.05zM568.6,174.79h1.05v8.58h-1.05zM569.6,172.94h1.05v9.14h-1.05zM570.6,171.79h1.05v9.37h-1.05zM571.6,168.71h1.05v9h-1.05zM572.6,167.35h1.05v9.24h-1.05zM573.6,167.27h1.05v7.93h-1.05zM574.6,165.7h1.05v8.18h-1.05zM575.6,165.65h1.05v9.99h-1.05zM576.6,163.89h1.05v10.24h-1.05zM577.6,160.35h1.05v10.27h-1.05zM578.6,158.41h1.05v10.52h-1.05zM579.6,156.77h1.05v12.52h-1.05zM580.6,154.66h1.05v12.76h-1.05zM581.6,151.49h1.05v10.46h-1.05zM582.6,149.24h1.05v10.68h-1.05zM583.6,146.23h1.05v12.32h-1.05zM584.6,143.85h1.05v12.51h-1.05zM585.6,143.74h1.05v9.26h-1.05zM586.6,141.27h1.05v9.41h-1.05zM587.6,135.15h1.05v11.43h-1.05zM588.6,132.62h1.05v11.54h-1.05zM589.6,131.29h1.05v11.2h-1.05zM590.6,128.73h1.05v11.26h-1.05zM591.6,125.02h1.05v13.48h-1.05zM592.6,122.47h1.05v13.48h-1.05zM593.6,120.01h1.05v14.23h-1.05zM594.6,117.51h1.05v14.17h-1.05zM595.6,113.49h1.05v12.95h-1.05zM596.6,111.07h1.05v12.84h-1.05zM597.6,111.57h1.05v12.18h-1.05zM598.6,109.26h1.05v12.02h-1.05zM599.6,106.28h1.05v11.52h-1.05zM600.6,104.11h1.05v11.32h-1.05zM601.6,101.6h1.05v11.91h-1.05zM602.6,99.6h1.05v11.67h-1.05zM603.6,99.34h1.05v10.95h-1.05zM604.6,97.52h1.05v10.7h-1.05zM605.6,95.41h1.05v8.05h-1.05zM606.6,93.78h1.05v7.78h-1.05zM607.6,94.03h1.05v7.3h-1.05zM608.6,92.6h1.05v7.03h-1.05zM609.6,90.8h1.05v7.4h-1.05zM610.6,89.58h1.05v7.14h-1.05zM611.6,88.06h1.05v5.33h-1.05zM612.6,87.04h1.05v5.08h-1.05zM613.6,85.09h1.05v7.46h-1.05zM614.6,84.27h1.05v7.23h-1.05zM615.6,84.45h1.05v7.66h-1.05zM616.6,83.82h1.05v7.46h-1.05zM617.6,82.27h1.05v6.13h-1.05zM618.6,81.82h1.05v5.97h-1.05zM619.6,82.75h1.05v7h-1.05zM620.6,82.49h1.05v6.87h-1.05zM621.6,82.1h1.05v5.36h-1.05zM622.6,82.01h1.05v5.25h-1.05zM623.6,83.05h1.05v4.33h-1.05zM624.6,83.05h1.05v4.43h-1.05zM625.6,82.84h1.05v6.47h-1.05zM626.6,83.01h1.05v6.58h-1.05zM627.6,82.36h1.05v6.33h-1.05zM628.6,82.7h1.05v6.46h-1.05zM629.6,82.89h1.05v7.69h-1.05zM630.6,83.39h1.05v7.84h-1.05zM631.6,84.67h1.05v5.61h-1.05zM632.6,85.34h1.05v5.78h-1.05zM633.6,85.36h1.05v6.7h-1.05zM634.6,86.21h1.05v6.89h-1.05zM635.6,85.72h1.05v9.67h-1.05zM636.6,86.73h1.05v9.88h-1.05zM637.6,88.54h1.05v8.87h-1.05zM638.6,89.73h1.05v9.09h-1.05zM639.6,90.66h1.05v10.09h-1.05zM640.6,92.04h1.05v10.33h-1.05zM641.6,96.13h1.05v8.56h-1.05zM642.6,97.68h1.05v8.81h-1.05zM643.6,98.68h1.05v10.98h-1.05zM644.6,100.41h1.05v11.22h-1.05zM645.6,101.06h1.05v10.74h-1.05zM646.6,102.96h1.05v10.97h-1.05zM647.6,105.72h1.05v9.15h-1.05zM648.6,107.78h1.05v9.36h-1.05zM649.6,110.39h1.05v9.62h-1.05zM650.6,112.6h1.05v9.8h-1.05zM651.6,114.63h1.05v11.6h-1.05zM652.6,116.96h1.05v11.74h-1.05zM653.6,119.84h1.05v11.93h-1.05zM654.6,122.27h1.05v12.03h-1.05zM655.6,123.49h1.05v12.05h-1.05zM656.6,126h1.05v12.09h-1.05zM657.6,129.27h1.05v11.47h-1.05zM658.6,131.81h1.05v11.46h-1.05zM659.6,135.76h1.05v11.07h-1.05zM660.6,138.3h1.05v11.01h-1.05zM661.6,141.35h1.05v9.44h-1.05zM662.6,143.86h1.05v9.31h-1.05zM663.6,146.56h1.05v8.76h-1.05z" fill="#00cc00"/>
<path d="M27.6,83.17h1.05v7.3h-1.05zM28.6,83.05h1.05v7.18h-1.05zM29.6,84.11h1.05v5.32h-1.05zM30.6,84.11h1.05v5.37h-1.05zM31.6,85.61h1.05v4.35h-1.05zM32.6,85.77h1.05v4.49h-1.05zM33.6,85.56h1.05v6.11h-1.05zM34.6,85.92h1.05v6.27h-1.05zM35.6,85.8h1.05v5.28h-1.05zM36.6,86.35h1.05v5.47h-1.05zM37.6,84.94h1.05v5.81h-1.05zM38.6,85.71h1.05v6.04h-1.05zM39.6,85.74h1.05v8.38h-1.05zM40.6,86.71h1.05v8.63h-1.05zM41.6,87.69h1.05v8.83h-1.05zM42.6,88.87h1.05v9.1h-1.05zM43.6,92h1.05v9.29h-1.05zM44.6,93.39h1.05v9.57h-1.05zM45.6,92.72h1.05v9.94h-1.05zM46.6,94.32h1.05v10.23h-1.05zM47.6,95.93h1.05v8.62h-1.05zM48.6,97.73h1.05v8.9h-1.05zM49.6,102.82h1.05v6.97h-1.05zM50.6,104.82h1.05v7.23h-1.05zM51.6,107.21h1.05v9h-1.05zM52.6,109.39h1.05v9.23h-1.05zM53.6,111.4h1.05v11.1h-1.05zM54.6,113.73h1.05v11.3h-1.05zM55.6,114.43h1.05v11.66h-1.05zM56.6,116.9h1.05v11.81h-1.05zM57.6,120.89h1.05v11.36h-1.05zM58.6,123.47h1.05v11.46h-1.05zM59.6,123.41h1.05v12.66h-1.05zM60.6,126.06h1.05v12.7h-1.05zM61.6,126.3h1.05v16.06h-1.05zM62.6,128.99h1.05v16.03h-1.05zM63.6,135.59h1.05v13.51h-1.05zM64.6,138.28h1.05v13.42h-1.05zM65.6,139.07h1.05v15.29h-1.05zM66.6,141.72h1.05v15.15h-1.05zM67.6,146.32h1.05v12.56h-1.05zM68.6,148.88h1.05v12.37h-1.05zM69.6,151.08h1.05v12.6h-1.05zM70.6,153.52h1.05v12.36h-1.05zM71.6,159.39h1.05v7.51h-1.05zM72.6,161.69h1.05v7.24h-1.05zM73.6,163.51h1.05v7.66h-1.05zM74.6,165.63h1.05v7.36h-1.05zM75.6,166.14h1.05v10.54h-1.05zM76.6,168.05h1.05v10.23h-1.05zM77.6,169.15h1.05v9.41h-1.05zM78.6,170.84h1.05v9.11h-1.05zM79.6,173.97h1.05v7.99h-1.05zM80.6,175.42h1.05v7.7h-1.05zM81.6,174.07h1.05v6.2h-1.05zM82.6,175.28h1.05v5.94h-1.05zM83.6,176.82h1.05v7.19h-1.05zM84.6,177.78h1.05v6.96h-1.05zM85.6,179.74h1.05v7.31h-1.05zM86.6,180.45h1.05v7.11h-1.05zM87.6,182.01h1.05v6.79h-1.05zM88.6,182.49h1.05v6.62h-1.05zM89.6,184.41h1.05v4.99h-1.05zM90.6,184.66h1.05v4.86h-1.05zM91.6,182.84h1.05v4.28h-1.05zM92.6,182.78h1.05v4.34h-1.05zM93.6,181.48h1.05v4.49h-1.05zM94.6,181.18h1.05v4.62h-1.05zM95.6,180.63h1.05v6.5h-1.05zM96.6,180.12h1.05v6.65h-1.05zM97.6,179.88h1.05v5.88h-1.05zM98.6,179.17h1.05v6.06h-1.05zM99.6,179.38h1.05v7.48h-1.05zM100.6,178.47h1.05v7.67h-1.05zM101.6,176.66h1.05v7.69h-1.05zM102.6,175.55h1.05v7.89h-1.05zM103.6,174.3h1.05v9.63h-1.05zM104.6,173h1.05v9.85h-1.05zM105.6,171.45h1.05v8.69h-1.05zM106.6,169.96h1.05v8.92h-1.05zM107.6,167.35h1.05v8.95h-1.05zM108.6,165.67h1.05v9.19h-1.05zM109.6,162.5h1.05v9.73h-1.05zM110.6,160.66h1.05v9.96h-1.05zM111.6,159.58h1.05v9.68h-1.05zM112.6,157.57h1.05v9.91h-1.05zM113.6,155.25h1.05v12.25h-1.05zM114.6,153.1h1.05v12.47h-1.05zM115.6,150.85h1.05v11.68h-1.05zM116.6,148.58h1.05v11.87h-1.05zM117.6,148.73h1.05v10.02h-1.05zM118.6,146.35h1.05v10.18h-1.05zM119.6,143.3h1.05v12.02h-1.05zM120.6,140.85h1.05v12.14h-1.05zM121.6,137.61h1.05v10.7h-1.05zM122.6,135.12h1.05v10.78h-1.05zM123.6,133.03h1.05v12.17h-1.05zM124.6,130.52h1.05v12.2h-1.05zM125.6,128.39h1.05v12.9h-1.05zM126.6,125.9h1.05v12.89h-1.05zM127.6,122.97h1.05v11.87h-1.05zM128.6,120.54h1.05v11.8h-1.05zM129.6,118.39h1.05v11.34h-1.05zM130.6,116.04h1.05v11.22h-1.05zM131.6,113.59h1.05v10.41h-1.05zM132.6,111.34h1.05v10.26h-1.05zM133.6,109.9h1.05v10.21h-1.05zM134.6,107.79h1.05v10.01h-1.05zM135.6,105.08h1.05v10.61h-1.05zM136.6,103.12h1.05v10.39h-1.05zM137.6,99.87h1.05v10.81h-1.05zM138.6,98.08h1.05v10.57h-1.05zM139.6,98.07h1.05v10.25h-1.05zM140.6,96.46h1.05v10h-1.05zM141.6,93.02h1.05v10.84h-1.05zM142.6,91.6h1.05v10.59h-1.05zM143.6,92.08h1.05v9.31h-1.05zM144.6,90.85h1.05v9.07h-1.05zM145.6,89.75h1.05v8.54h-1.05zM146.6,88.72h1.05v8.3h-1.05zM147.6,87.4h1.05v9.06h-1.05zM148.6,86.56h1.05v8.84h-1.05zM149.6,85.86h1.05v10.18h-1.05zM150.6,85.21h1.05v9.98h-1.05zM151.6,85.01h1.05v4.27h-1.05zM152.6,84.56h1.05v4.09h-1.05zM153.6,84.83h1.05v5.16h-1.05zM154.6,84.57h1.05v5.01h-1.05zM155.6,83.47h1.05v4.01h-1.05zM156.6,83.4h1.05v3.89h-1.05zM157.6,83.36h1.05v5.87h-1.05zM158.6,83.37h1.05v5.99h-1.05zM159.6,83.18h1.05v6.49h-1.05zM160.6,83.38h1.05v6.63h-1.05zM161.6,83.46h1.05v7.14h-1.05zM162.6,83.87h1.05v7.32h-1.05zM163.6,87.55h1.05v5.23h-1.05zM164.6,88.15h1.05v5.43h-1.05zM165.6,85.97h1.05v8.5h-1.05zM166.6,86.78h1.05v8.73h-1.05zM167.6,89.84h1.05v6.91h-1.05zM168.6,90.85h1.05v7.17h-1.05zM169.6,90.87h1.05v6.73h-1.05zM170.6,92.09h1.05v7h-1.05zM171.6,90.76h1.05v11.16h-1.05zM172.6,92.19h1.05v11.45h-1.05zM173.6,96.1h1.05v10.87h-1.05zM174.6,97.75h1.05v11.15h-1.05zM175.6,97.51h1.05v12.37h-1.05zM176.6,99.35h1.05v12.64h-1.05zM177.6,102.53h1.05v9.41h-1.05zM178.6,104.57h1.05v9.67h-1.05zM179.6,109.07h1.05v11.26h-1.05zM180.6,111.28h1.05v11.49h-1.05zM181.6,111.63h1.05v12.41h-1.05zM182.6,114h1.05v12.6h-1.05zM183.6,115.89h1.05v12.17h-1.05zM184.6,118.39h1.05v12.31h-1.05zM185.6,122.55h1.05v11.9h-1.05zM186.6,125.14h1.05v11.98h-1.05zM187.6,126.34h1.05v13.55h-1.05zM188.6,129h1.05v13.58h-1.05zM189.6,132.09h1.05v13.3h-1.05zM190.6,134.78h1.05v13.26h-1.05zM191.6,139.34h1.05v12.59h-1.05zM192.6,142.02h1.05v12.49h-1.05zM193.6,143.84h1.05v13.32h-1.05zM194.6,146.47h1.05v13.17h-1.05zM195.6,147.52h1.05v13.21h-1.05zM196.6,150.06h1.05v13h-1.05zM197.6,153.58h1.05v10.06h-1.05zM198.6,156h1.05v9.82h-1.05zM199.6,159.12h1.05v10.7h-1.05zM200.6,161.38h1.05v10.43h-1.05zM201.6,162.88h1.05v9.15h-1.05zM202.6,164.95h1.05v8.85h-1.05zM203.6,166.35h1.05v8.93h-1.05zM204.6,168.21h1.05v8.63h-1.05zM205.6,170.11h1.05v8h-1.05zM206.6,171.75h1.05v7.7h-1.05zM207.6,172.91h1.05v6.39h-1.05zM208.6,174.31h1.05v6.11h-1.05zM209.6,176.15h1.05v5.26h-1.05zM210.6,177.3h1.05v5h-1.05zM211.6,176.36h1.05v8.17h-1.05zM212.6,177.27h1.05v7.94h-1.05zM213.6,178.96h1.05v5.7h-1.05zM214.6,179.62h1.05v5.51h-1.05zM215.6,180.02h1.05v5.6h-1.05zM216.6,180.45h1.05v5.44h-1.05zM217.6,181.85h1.05v5.82h-1.05zM218.6,182.04h1.05v5.69h-1.05zM219.6,183.21h1.05v3.64h-1.05zM220.6,183.08h1.05v3.75h-1.05zM221.6,184.11h1.05v5.48h-1.05zM222.6,183.77h1.05v5.62h-1.05zM223.6,181.13h1.05v5.61h-1.05zM224.6,180.58h1.05v5.77h-1.05zM225.6,177.4h1.05v7.66h-1.05zM226.6,176.65h1.05v7.84h-1.05zM227.6,178.5h1.05v7.31h-1.05zM228.6,177.55h1.05v7.5h-1.05zM229.6,175.96h1.05v7.68h-1.05zM230.6,174.81h1.05v7.89h-1.05zM231.6,174.28h1.05v7.95h-1.05zM232.6,172.94h1.05v8.17h-1.05zM233.6,170.91h1.05v10.55h-1.05zM234.6,169.38h1.05v10.78h-1.05zM235.6,168.24h1.05v9.72h-1.05zM236.6,166.53h1.05v9.96h-1.05zM237.6,162.54h1.05v12.38h-1.05zM238.6,160.66h1.05v12.61h-1.05zM239.6,159.83h1.05v10.76h-1.05zM240.6,157.78h1.05v10.99h-1.05zM241.6,154.5h1.05v11.66h-1.05zM242.6,152.32h1.05v11.87h-1.05zM243.6,151.69h1.05v9.18h-1.05zM244.6,149.39h1.05v9.36h-1.05zM245.6,146.76h1.05v8.61h-1.05zM246.6,144.36h1.05v8.76h-1.05zM247.6,142.13h1.05v10.92h-1.05zM248.6,139.67h1.05v11.03h-1.05zM249.6,137.68h1.05v10.17h-1.05zM250.6,135.18h1.05v10.24h-1.05zM251.6,131.33h1.05v12.41h-1.05zM252.6,128.82h1.05v12.43h-1.05zM253.6,128.12h1.05v12.15h-1.05zM254.6,125.64h1.05v12.13h-1.05zM255.6,123.59h1.05v10.73h-1.05zM256.6,121.17h1.05v10.65h-1.05zM257.6,116.25h1.05v11.07h-1.05zM258.6,113.92h1.05v10.95h-1.05zM259.6,110.78h1.05v10.57h-1.05zM260.6,108.56h1.05v10.4h-1.05zM261.6,107.56h1.05v10.86h-1.05zM262.6,105.48h1.05v10.67h-1.05zM263.6,106.15h1.05v10.05h-1.05zM264.6,104.23h1.05v9.83h-1.05zM265.6,101.29h1.05v9.01h-1.05zM266.6,99.54h1.05v8.77h-1.05zM267.6,98.15h1.05v9.47h-1.05zM268.6,96.58h1.05v9.22h-1.05zM269.6,96.27h1.05v7.57h-1.05zM270.6,94.89h1.05v7.32h-1.05zM271.6,91.24h1.05v6.64h-1.05zM272.6,90.05h1.05v6.39h-1.05zM273.6,91.34h1.05v4.39h-1.05zM274.6,90.34h1.05v4.16h-1.05zM275.6,87.66h1.05v6.34h-1.05zM276.6,86.86h1.05v6.13h-1.05zM277.6,86.31h1.05v5.57h-1.05zM278.6,85.7h1.05v5.38h-1.05zM279.6,84.76h1.05v6.48h-1.05zM280.6,84.34h1.05v6.31h-1.05zM281.6,87.38h1.05v6.64h-1.05zM282.6,87.16h1.05v6.5h-1.05zM283.6,82.35h1.05v7.6h-1.05zM284.6,82.32h1.05v7.49h-1.05zM285.6,82.56h1.05v6.81h-1.05zM286.6,82.62h1.05v6.93h-1.05zM287.6,82.53h1.05v8.21h-1.05zM288.6,82.78h1.05v8.36h-1.05zM289.6,81.22h1.05v7.87h-1.05zM290.6,81.67h1.05v8.05h-1.05zM291.6,83.67h1.05v8.27h-1.05zM292.6,84.32h1.05v8.48h-1.05zM293.6,85.79h1.05v5.49h-1.05zM294.6,86.64h1.05v5.73h-1.05zM295.6,88.9h1.05v6.2h-1.05zM296.6,89.96h1.05v6.46h-1.05zM297.6,92.8h1.05v7.65h-1.05zM298.6,94.07h1.05v7.93h-1.05zM299.6,95.49h1.05v5.97h-1.05zM300.6,96.97h1.05v6.26h-1.05zM301.6,99.97h1.05v6.2h-1.05zM302.6,101.66h1.05v6.48h-1.05zM303.6,102.66h1.05v8.46h-1.05zM304.6,104.55h1.05v8.74h-1.05zM305.6,106.66h1.05v8.85h-1.05zM306.6,108.74h1.05v9.11h-1.05zM307.6,108.83h1.05v10.97h-1.05zM308.6,111.08h1.05v11.2h-1.05zM309.6,113.44h1.05v10.53h-1.05zM310.6,115.84h1.05v10.71h-1.05zM311.6,118.98h1.05v12.37h-1.05zM312.6,121.51h1.05v12.5h-1.05zM313.6,122.93h1.05v12.15h-1.05zM314.6,125.55h1.05v12.23h-1.05zM315.6,129.16h1.05v13.8h-1.05zM316.6,131.84h1.05v13.81h-1.05zM317.6,134.87h1.05v12h-1.05zM318.6,137.57h1.05v11.96h-1.05zM319.6,140.37h1.05v10.91h-1.05zM320.6,143.05h1.05v10.8h-1.05zM321.6,144.39h1.05v12.53h-1.05zM322.6,147.01h1.05v12.36h-1.05zM323.6,148.35h1.05v11.38h-1.05zM324.6,150.86h1.05v11.17h-1.05zM325.6,155.1h1.05v10.84h-1.05zM326.6,157.48h1.05v10.59h-1.05zM327.6,158.11h1.05v10.81h-1.05zM328.6,160.33h1.05v10.53h-1.05zM329.6,161.81h1.05v9.8h-1.05zM330.6,163.84h1.05v9.5h-1.05zM331.6,165.44h1.05v9.62h-1.05zM332.6,167.26h1.05v9.32h-1.05zM333.6,170.55h1.05v10.72h-1.05zM334.6,172.14h1.05v10.42h-1.05zM335.6,173.87h1.05v8.87h-1.05zM336.6,175.22h1.05v8.6h-1.05zM337.6,177.32h1.05v7.45h-1.05zM338.6,178.42h1.05v7.2h-1.05zM339.6,177.37h1.05v7.39h-1.05zM340.6,178.22h1.05v7.17h-1.05zM341.6,179.28h1.05v7.44h-1.05zM342.6,179.89h1.05v7.26h-1.05zM343.6,182.17h1.05v6h-1.05zM344.6,182.55h1.05v5.85h-1.05zM345.6,180.32h1.05v7.05h-1.05zM346.6,180.46h1.05v6.93h-1.05zM347.6,181.39h1.05v7.4h-1.05zM348.6,181.21h1.05v7.52h-1.05zM349.6,181.02h1.05v6.36h-1.05zM350.6,180.64h1.05v6.5h-1.05zM351.6,180.08h1.05v5.69h-1.05zM352.6,179.49h1.05v5.85h-1.05zM353.6,179.51h1.05v4.28h-1.05zM354.6,178.71h1.05v4.46h-1.05zM355.6,177.1h1.05v8.69h-1.05zM356.6,176.1h1.05v8.88h-1.05zM357.6,175.98h1.05v8.15h-1.05zM358.6,174.79h1.05v8.37h-1.05zM359.6,173.66h1.05v6.63h-1.05zM360.6,172.28h1.05v6.85h-1.05zM361.6,171.59h1.05v6.17h-1.05zM362.6,170.02h1.05v6.4h-1.05zM363.6,167.71h1.05v6.12h-1.05zM364.6,165.95h1.05v6.35h-1.05zM365.6,163.67h1.05v8.15h-1.05zM366.6,161.75h1.05v8.39h-1.05zM367.6,158.57h1.05v10.39h-1.05zM368.6,156.49h1.05v10.61h-1.05zM369.6,155.3h1.05v9.98h-1.05zM370.6,153.09h1.05v10.18h-1.05zM371.6,152.11h1.05v8.23h-1.05zM372.6,149.79h1.05v8.4h-1.05zM373.6,145.95h1.05v9.27h-1.05zM374.6,143.53h1.05v9.42h-1.05zM375.6,139.2h1.05v10.48h-1.05zM376.6,136.73h1.05v10.58h-1.05zM377.6,133.99h1.05v12.59h-1.05zM378.6,131.49h1.05v12.65h-1.05zM379.6,130.5h1.05v12.4h-1.05zM380.6,127.99h1.05v12.41h-1.05zM381.6,125.14h1.05v11.4h-1.05zM382.6,122.67h1.05v11.36h-1.05zM383.6,120.21h1.05v12.32h-1.05zM384.6,117.81h1.05v12.23h-1.05zM385.6,117.34h1.05v11.68h-1.05zM386.6,115.03h1.05v11.55h-1.05zM387.6,109.84h1.05v11.04h-1.05zM388.6,107.65h1.05v10.87h-1.05zM389.6,105.61h1.05v12.02h-1.05zM390.6,103.56h1.05v11.81h-1.05zM391.6,103.86h1.05v9.29h-1.05zM392.6,101.98h1.05v9.06h-1.05zM393.6,100.62h1.05v9.21h-1.05zM394.6,98.91h1.05v8.97h-1.05zM395.6,94.15h1.05v10.62h-1.05zM396.6,92.62h1.05v10.36h-1.05zM397.6,93.89h1.05v7.56h-1.05zM398.6,92.55h1.05v7.31h-1.05zM399.6,93.07h1.05v6.12h-1.05zM400.6,91.92h1.05v5.88h-1.05zM401.6,88.31h1.05v7.57h-1.05zM402.6,87.35h1.05v7.34h-1.05zM403.6,88.12h1.05v4.63h-1.05zM404.6,87.36h1.05v4.42h-1.05zM405.6,84.41h1.05v6.69h-1.05zM406.6,83.85h1.05v6.5h-1.05zM407.6,84.8h1.05v6.49h-1.05zM408.6,84.42h1.05v6.33h-1.05zM409.6,85.12h1.05v6.57h-1.05zM410.6,84.93h1.05v6.43h-1.05zM411.6,82.79h1.05v5.47h-1.05zM412.6,82.79h1.05v5.38h-1.05zM413.6,84.79h1.05v4.92h-1.05zM414.6,84.89h1.05v5.04h-1.05zM415.6,85.2h1.05v4.95h-1.05zM416.6,85.5h1.05v5.11h-1.05zM417.6,86.17h1.05v4.23h-1.05zM418.6,86.66h1.05v4.41h-1.05zM419.6,85.13h1.05v7.67h-1.05zM420.6,85.83h1.05v7.88h-1.05zM421.6,86.65h1.05v8.75h-1.05zM422.6,87.54h1.05v8.99h-1.05zM423.6,88.5h1.05v7.92h-1.05zM424.6,89.61h1.05v8.19h-1.05zM425.6,91.83h1.05v8.52h-1.05zM426.6,93.15h1.05v8.79h-1.05zM427.6,94.28h1.05v9.87h-1.05zM428.6,95.81h1.05v10.16h-1.05zM429.6,98.28h1.05v10.44h-1.05zM430.6,100.01h1.05v10.72h-1.05zM431.6,100.69h1.05v10.45h-1.05zM432.6,102.62h1.05v10.72h-1.05zM433.6,104.84h1.05v10.49h-1.05zM434.6,106.95h1.05v10.74h-1.05zM435.6,110.49h1.05v12.41h-1.05zM436.6,112.77h1.05v12.63h-1.05zM437.6,115.1h1.05v11.83h-1.05zM438.6,117.53h1.05v11.99h-1.05zM439.6,118.21h1.05v12.67h-1.05zM440.6,120.76h1.05v12.79h-1.05zM441.6,123.29h1.05v13.26h-1.05zM442.6,125.93h1.05v13.32h-1.05zM443.6,129.07h1.05v12.1h-1.05zM444.6,131.75h1.05v12.1h-1.05zM445.6,133.27h1.05v13.86h-1.05zM446.6,135.96h1.05v13.79h-1.05zM447.6,139.88h1.05v13.45h-1.05zM448.6,142.54h1.05v13.33h-1.05zM449.6,144.35h1.05v13.31h-1.05zM450.6,146.95h1.05v13.14h-1.05zM451.6,149h1.05v10.86h-1.05zM452.6,151.49h1.05v10.64h-1.05zM453.6,154.78h1.05v11.18h-1.05zM454.6,157.13h1.05v10.92h-1.05zM455.6,160.94h1.05v10.63h-1.05zM456.6,163.12h1.05v10.35h-1.05zM457.6,164.72h1.05v10h-1.05zM458.6,166.71h1.05v9.7h-1.05zM459.6,169.87h1.05v8.15h-1.05zM460.6,171.64h1.05v7.85h-1.05zM461.6,170.23h1.05v10.35h-1.05zM462.6,171.76h1.05v10.06h-1.05zM463.6,173.83h1.05v10.35h-1.05zM464.6,175.12h1.05v10.08h-1.05zM465.6,178.02h1.05v8.13h-1.05zM466.6,179.07h1.05v7.89h-1.05zM467.6,179.37h1.05v7.25h-1.05zM468.6,180.17h1.05v7.04h-1.05zM469.6,181.5h1.05v6.09h-1.05zM470.6,182.06h1.05v5.91h-1.05zM471.6,182.23h1.05v4.75h-1.05zM472.6,182.55h1.05v4.61h-1.05zM473.6,180.89h1.05v7.19h-1.05zM474.6,180.98h1.05v7.1h-1.05zM475.6,181.06h1.05v7.45h-1.05zM476.6,180.83h1.05v7.57h-1.05zM477.6,180.44h1.05v7.85h-1.05zM478.6,180h1.05v8h-1.05zM479.6,179.55h1.05v6.29h-1.05zM480.6,178.91h1.05v6.45h-1.05zM481.6,177.79h1.05v7.21h-1.05zM482.6,176.95h1.05v7.39h-1.05zM483.6,175.32h1.05v7.33h-1.05zM484.6,174.28h1.05v7.53h-1.05zM485.6,174.22h1.05v7.28h-1.05zM486.6,172.99h1.05v7.5h-1.05zM487.6,171.21h1.05v9.62h-1.05zM488.6,169.78h1.05v9.84h-1.05zM489.6,166.91h1.05v11.37h-1.05zM490.6,165.29h1.05v11.6h-1.05zM491.6,165.9h1.05v8.18h-1.05zM492.6,164.11h1.05v8.42h-1.05zM493.6,163.48h1.05v9.31h-1.05zM494.6,161.53h1.05v9.54h-1.05zM495.6,158.95h1.05v9.43h-1.05zM496.6,156.84h1.05v9.65h-1.05zM497.6,154.78h1.05v11.57h-1.05zM498.6,152.54h1.05v11.77h-1.05zM499.6,150.58h1.05v11.59h-1.05zM500.6,148.24h1.05v11.76h-1.05zM501.6,146.3h1.05v10.32h-1.05zM502.6,143.87h1.05v10.46h-1.05zM503.6,141.08h1.05v13.15h-1.05zM504.6,138.6h1.05v13.25h-1.05zM505.6,137.29h1.05v9.8h-1.05zM506.6,134.79h1.05v9.85h-1.05zM507.6,129.19h1.05v11.26h-1.05zM508.6,126.69h1.05v11.26h-1.05zM509.6,124.9h1.05v11.79h-1.05zM510.6,122.44h1.05v11.74h-1.05zM511.6,122.39h1.05v11.01h-1.05zM512.6,120.01h1.05v10.91h-1.05zM513.6,118.32h1.05v11.36h-1.05zM514.6,116.04h1.05v11.22h-1.05zM515.6,113.23h1.05v10.7h-1.05zM516.6,111.07h1.05v10.52h-1.05zM517.6,108.54h1.05v7.89h-1.05zM518.6,106.53h1.05v7.68h-1.05zM519.6,103.02h1.05v7.17h-1.05zM520.6,101.18h1.05v6.93h-1.05zM521.6,100.41h1.05v7.11h-1.05zM522.6,98.74h1.05v6.86h-1.05zM523.6,97.25h1.05v6.54h-1.05zM524.6,95.76h1.05v6.28h-1.05zM525.6,92.79h1.05v7.25h-1.05zM526.6,91.5h1.05v7h-1.05zM527.6,89.88h1.05v7.34h-1.05zM528.6,88.77h1.05v7.1h-1.05zM529.6,89.46h1.05v7.59h-1.05zM530.6,88.56h1.05v7.37h-1.05zM531.6,86.39h1.05v6.41h-1.05zM532.6,85.68h1.05v6.21h-1.05zM533.6,84.99h1.05v7.75h-1.05zM534.6,84.47h1.05v7.57h-1.05zM535.6,84.79h1.05v6.08h-1.05zM536.6,84.46h1.05v5.93h-1.05zM537.6,84.64h1.05v6.04h-1.05zM538.6,84.5h1.05v5.91h-1.05zM539.6,86.97h1.05v4.03h-1.05zM540.6,86.97h1.05v4.03h-1.05zM541.6,81.98h1.05v5.65h-1.05zM542.6,82.12h1.05v5.78h-1.05zM543.6,84.14h1.05v6.95h-1.05zM544.6,84.48h1.05v7.11h-1.05zM545.6,83.99h1.05v8.6h-1.05zM546.6,84.53h1.05v8.79h-1.05zM547.6,87.64h1.05v6.87h-1.05zM548.6,88.37h1.05v7.09h-1.05zM549.6,90.04h1.05v7h-1.05zM550.6,90.98h1.05v7.25h-1.05zM551.6,90.63h1.05v8.1h-1.05zM552.6,91.79h1.05v8.37h-1.05zM553.6,91.56h1.05v8.14h-1.05zM554.6,92.92h1.05v8.42h-1.05zM555.6,95.98h1.05v7.97h-1.05zM556.6,97.55h1.05v8.26h-1.05zM557.6,100.59h1.05v7.54h-1.05zM558.6,102.37h1.05v7.82h-1.05zM559.6,103.28h1.05v8.74h-1.05zM560.6,105.25h1.05v9.01h-1.05zM561.6,107.04h1.05v9.48h-1.05zM562.6,109.19h1.05v9.73h-1.05zM563.6,110.89h1.05v11.18h-1.05zM564.6,113.21h1.05v11.39h-1.05zM565.6,112.63h1.05v15.85h-1.05zM566.6,115.09h1.05v16.01h-1.05zM567.6,118.26h1.05v14.44h-1.05zM568.6,120.83h1.05v14.55h-1.05zM569.6,125.18h1.05v11.15h-1.05zM570.6,127.83h1.05v11.2h-1.05zM571.6,129.12h1.05v14.34h-1.05zM572.6,131.8h1.05v14.33h-1.05zM573.6,135.29h1.05v13.31h-1.05zM574.6,137.98h1.05v13.24h-1.05zM575.6,140.79h1.05v13.32h-1.05zM576.6,143.44h1.05v13.19h-1.05zM577.6,146.87h1.05v13.14h-1.05zM578.6,149.45h1.05v12.95h-1.05zM579.6,151.68h1.05v12.32h-1.05zM580.6,154.14h1.05v12.09h-1.05zM581.6,155.73h1.05v11.2h-1.05zM582.6,158.04h1.05v10.93h-1.05zM583.6,162.43h1.05v8.69h-1.05zM584.6,164.57h1.05v8.4h-1.05zM585.6,165.78h1.05v9.18h-1.05zM586.6,167.72h1.05v8.88h-1.05zM587.6,169.34h1.05v10h-1.05zM588.6,171.05h1.05v9.71h-1.05zM589.6,173.1h1.05v9.19h-1.05zM590.6,174.58h1.05v8.9h-1.05zM591.6,174.87h1.05v9.83h-1.05zM592.6,176.11h1.05v9.57h-1.05zM593.6,177.88h1.05v8.78h-1.05zM594.6,178.87h1.05v8.55h-1.05zM595.6,179.73h1.05v7.51h-1.05zM596.6,180.48h1.05v7.31h-1.05zM597.6,180.38h1.05v7.68h-1.05zM598.6,180.88h1.05v7.52h-1.05zM599.6,179.98h1.05v5.06h-1.05zM600.6,180.25h1.05v4.92h-1.05zM601.6,181.02h1.05v4.95h-1.05zM602.6,181.01h1.05v4.96h-1.05zM603.6,180.41h1.05v5.8h-1.05zM604.6,180.14h1.05v5.93h-1.05zM605.6,178.56h1.05v8.63h-1.05zM606.6,178.08h1.05v8.78h-1.05zM607.6,178.4h1.05v6.89h-1.05zM608.6,177.71h1.05v7.06h-1.05zM609.6,177.28h1.05v7.34h-1.05zM610.6,176.39h1.05v7.53h-1.05zM611.6,175.45h1.05v7.81h-1.05zM612.6,174.36h1.05v8.01h-1.05zM613.6,171.13h1.05v9.71h-1.05zM614.6,169.85h1.05v9.92h-1.05zM615.6,170.15h1.05v10.45h-1.05zM616.6,168.69h1.05v10.68h-1.05zM617.6,167.05h1.05v11.08h-1.05zM618.6,165.4h1.05v11.31h-1.05zM619.6,162.92h1.05v11.62h-1.05zM620.6,161.09h1.05v11.85h-1.05zM621.6,159.94h1.05v10.73h-1.05zM622.6,157.95h1.05v10.95h-1.05zM623.6,155.82h1.05v10.61h-1.05zM624.6,153.69h1.05v10.82h-1.05zM625.6,152.07h1.05v10.56h-1.05zM626.6,149.81h1.05v10.75h-1.05zM627.6,148.64h1.05v9.54h-1.05zM628.6,146.27h1.05v9.7h-1.05zM629.6,145.37h1.05v9.16h-1.05zM630.6,142.93h1.05v9.29h-1.05zM631.6,141.04h1.05v7.46h-1.05zM632.6,138.55h1.05v7.55h-1.05zM633.6,134.1h1.05v11.01h-1.05zM634.6,131.59h1.05v11.04h-1.05zM635.6,127.5h1.05v13.84h-1.05zM636.6,125.01h1.05v13.82h-1.05zM637.6,123.48h1.05v13.91h-1.05zM638.6,121.03h1.05v13.85h-1.05zM639.6,118.49h1.05v13.61h-1.05zM640.6,116.12h1.05v13.5h-1.05zM641.6,116.92h1.05v11.64h-1.05zM642.6,114.66h1.05v11.49h-1.05zM643.6,111.67h1.05v10.84h-1.05zM644.6,109.54h1.05v10.66h-1.05zM645.6,106.63h1.05v8.71h-1.05zM646.6,104.65h1.05v8.49h-1.05zM647.6,102.98h1.05v7.63h-1.05zM648.6,101.17h1.05v7.39h-1.05zM649.6,100.75h1.05v8.27h-1.05zM650.6,99.12h1.05v8.02h-1.05zM651.6,96.2h1.05v8.25h-1.05zM652.6,94.76h1.05v7.99h-1.05zM653.6,92.84h1.05v7.93h-1.05zM654.6,91.59h1.05v7.69h-1.05zM655.6,91.47h1.05v9.92h-1.05zM656.6,90.41h1.05v9.68h-1.05zM657.6,92.4h1.05v8.09h-1.05zM658.6,91.53h1.05v7.87h-1.05zM659.6,87.72h1.05v6.85h-1.05zM660.6,87.04h1.05v6.65h-1.05zM661.6,85.41h1.05v6.5h-1.05zM662.6,84.93h1.05v6.33h-1.05zM663.6,85.19h1.05v7.32h-1.05z" fill="#cc00cc"/>
<line x1="25.0" y1="0" x2="25.0" y2="269" stroke="#575757" stroke-width="2.2"/>
<line x1="26.7" y1="0" x2="26.7" y2="269" stroke="#222" stroke-width="1.4"/>
<line x1="24" y1="0.5" x2="665" y2="0.5" stroke="#333" stroke-width="1.2"/>
<line x1="664.2" y1="0" x2="664.2" y2="268.5" stroke="#333" stroke-width="1.4"/>
<line x1="24" y1="268.0" x2="665" y2="268.0" stroke="#222" stroke-width="1.6"/>
<line x1="13.9" y1="136.2" x2="25" y2="136.2" stroke="#000" stroke-width="2.2"/>
<text x="-1.2" y="143.4" font-family="Liberation Serif" font-size="22" fill="#000">0</text>
<line x1="46.3" y1="66.4" x2="68.5" y2="79.13" stroke="#000" stroke-width="2.4"/><polygon points="77,84 64.82,81.51 68.7,74.75" fill="#000"/>
<line x1="86.5" y1="54.3" x2="106.68" y2="73.96" stroke="#000" stroke-width="2.4"/><polygon points="113.7,80.8 102.53,75.36 107.97,69.77" fill="#000"/>
<line x1="135.5" y1="59.2" x2="151.78" y2="76.97" stroke="#000" stroke-width="2.4"/><polygon points="158.4,84.2 147.55,78.13 153.31,72.86" fill="#000"/>
<text transform="translate(45,61.5) skewX(-14)" font-family="Liberation Serif" font-weight="bold" font-style="italic" font-size="20.5" fill="#000">i</text><text transform="translate(50.3,63.5) skewX(-12)" font-family="Liberation Serif" font-weight="bold" font-style="italic" font-size="13.8" fill="#000">a</text>
<text transform="translate(70,51) skewX(-14)" font-family="Liberation Serif" font-weight="bold" font-style="italic" font-size="20.5" fill="#000">i</text><text transform="translate(75.2,54.6) skewX(-12)" font-family="Liberation Serif" font-weight="bold" font-style="italic" font-size="13.8" fill="#000">b</text>
<text transform="translate(127.2,54.6) skewX(-14)" font-family="Liberation Serif" font-weight="bold" font-style="italic" font-size="20.5" fill="#000">i</text><text transform="translate(132.6,56.8) skewX(-12)" font-family="Liberation Serif" font-weight="bold" font-style="italic" font-size="13.8" fill="#000">c</text>
<text x="160.5" y="55.8" font-family="Liberation Serif" font-weight="bold" font-size="21" fill="#000">(10A/div)</text>
<text x="517.6" y="246.4" font-family="Liberation Serif" font-weight="bold" font-size="21" fill="#000">(10ms/div)</text>
<line x1="545" y1="256.9" x2="588" y2="256.9" stroke="#000" stroke-width="2.1"/>
<polygon points="535.3,256.9 547.5,253.2 547.5,260.6" fill="#000"/>
<polygon points="596.9,256.9 585.3,252.9 585.3,260.9" fill="#000"/>
<text x="19.3" y="301.3" font-family="Liberation Serif" font-size="30.12" fill="#000">(a) The waveforms of the actual current with DC offset</text>
<rect x="102.3" y="320.4" width="4.1" height="240.6" fill="#0072bd" stroke="#0a1a30" stroke-width="0.8"/>
<rect x="116.4" y="553.3" width="4.0" height="7.7" fill="#0072bd" stroke="#0a1a30" stroke-width="0.8"/>
<path d="M63.3,561 V318.9 H644.8 V561 H63.3 Z" fill="none" stroke="#1e1e1e" stroke-width="2.9"/>
<line x1="90.1" y1="561" x2="90.1" y2="554" stroke="#1e1e1e" stroke-width="3.4"/>
<line x1="90.1" y1="318.9" x2="90.1" y2="325.9" stroke="#1e1e1e" stroke-width="3.4"/>
<line x1="145.69" y1="561" x2="145.69" y2="554" stroke="#1e1e1e" stroke-width="3.4"/>
<line x1="145.69" y1="318.9" x2="145.69" y2="325.9" stroke="#1e1e1e" stroke-width="3.4"/>
<line x1="201.28" y1="561" x2="201.28" y2="554" stroke="#1e1e1e" stroke-width="3.4"/>
<line x1="201.28" y1="318.9" x2="201.28" y2="325.9" stroke="#1e1e1e" stroke-width="3.4"/>
<line x1="256.87" y1="561" x2="256.87" y2="554" stroke="#1e1e1e" stroke-width="3.4"/>
<line x1="256.87" y1="318.9" x2="256.87" y2="325.9" stroke="#1e1e1e" stroke-width="3.4"/>
<line x1="312.46" y1="561" x2="312.46" y2="554" stroke="#1e1e1e" stroke-width="3.4"/>
<line x1="312.46" y1="318.9" x2="312.46" y2="325.9" stroke="#1e1e1e" stroke-width="3.4"/>
<line x1="368.05" y1="561" x2="368.05" y2="554" stroke="#1e1e1e" stroke-width="3.4"/>
<line x1="368.05" y1="318.9" x2="368.05" y2="325.9" stroke="#1e1e1e" stroke-width="3.4"/>
<line x1="423.64" y1="561" x2="423.64" y2="554" stroke="#1e1e1e" stroke-width="3.4"/>
<line x1="423.64" y1="318.9" x2="423.64" y2="325.9" stroke="#1e1e1e" stroke-width="3.4"/>
<line x1="479.23" y1="561" x2="479.23" y2="554" stroke="#1e1e1e" stroke-width="3.4"/>
<line x1="479.23" y1="318.9" x2="479.23" y2="325.9" stroke="#1e1e1e" stroke-width="3.4"/>
<line x1="534.82" y1="561" x2="534.82" y2="554" stroke="#1e1e1e" stroke-width="3.4"/>
<line x1="534.82" y1="318.9" x2="534.82" y2="325.9" stroke="#1e1e1e" stroke-width="3.4"/>
<line x1="590.41" y1="561" x2="590.41" y2="554" stroke="#1e1e1e" stroke-width="3.4"/>
<line x1="590.41" y1="318.9" x2="590.41" y2="325.9" stroke="#1e1e1e" stroke-width="3.4"/>
<line x1="63.3" y1="512.58" x2="69.8" y2="512.58" stroke="#1e1e1e" stroke-width="2.8"/>
<line x1="644.8" y1="512.58" x2="638.3" y2="512.58" stroke="#1e1e1e" stroke-width="2.8"/>
<line x1="63.3" y1="464.16" x2="69.8" y2="464.16" stroke="#1e1e1e" stroke-width="2.8"/>
<line x1="644.8" y1="464.16" x2="638.3" y2="464.16" stroke="#1e1e1e" stroke-width="2.8"/>
<line x1="63.3" y1="415.74" x2="69.8" y2="415.74" stroke="#1e1e1e" stroke-width="2.8"/>
<line x1="644.8" y1="415.74" x2="638.3" y2="415.74" stroke="#1e1e1e" stroke-width="2.8"/>
<line x1="63.3" y1="367.32" x2="69.8" y2="367.32" stroke="#1e1e1e" stroke-width="2.8"/>
<line x1="644.8" y1="367.32" x2="638.3" y2="367.32" stroke="#1e1e1e" stroke-width="2.8"/>
<rect x="80.7" y="514.9" width="17.5" height="45.3" fill="none" stroke="#ff0000" stroke-width="1.8" stroke-dasharray="2.8 2.0"/>
<line x1="58" y1="331.3" x2="110" y2="331.3" stroke="#fff" stroke-width="0.9"/>
<line x1="636" y1="331.3" x2="650" y2="331.3" stroke="#fff" stroke-width="0.9"/>
<line x1="58" y1="425" x2="110" y2="425" stroke="#fff" stroke-width="0.9"/>
<line x1="636" y1="425" x2="650" y2="425" stroke="#fff" stroke-width="0.9"/>
<text transform="translate(53.6,568.8) scale(1,1.12)" text-anchor="end" font-family="Liberation Serif" font-weight="bold" font-size="22" fill="#000">0</text>
<text transform="translate(56.6,472) scale(1,1.12)" text-anchor="end" font-family="Liberation Serif" font-weight="bold" font-size="22" fill="#000">40</text>
<text transform="translate(56.6,377.3) scale(1,1.12)" text-anchor="end" font-family="Liberation Serif" font-weight="bold" font-size="22" fill="#000">80</text>
<text x="88.3" y="580.3" text-anchor="middle" font-family="Liberation Serif" font-weight="bold" font-size="22" fill="#000">0</text>
<text x="364.4" y="580.3" text-anchor="middle" font-family="Liberation Serif" font-weight="bold" font-size="22" fill="#000">1000</text>
<text x="644.3" y="580.3" text-anchor="middle" font-family="Liberation Serif" font-weight="bold" font-size="22" fill="#000">2000</text>
<text x="364.4" y="597.0" text-anchor="middle" font-family="Liberation Serif" font-weight="bold" font-size="22" fill="#000">Freqency (Hz)</text>
<text transform="translate(25.8,563.0) rotate(-90)" x="0" y="0" font-family="Liberation Serif" font-weight="bold" font-size="22.3" fill="#000">Mag(% of Fundamental)</text>
<text x="431.9" y="377.5" font-family="Liberation Serif" font-size="22" fill="#000">THD=4.6%</text>
<text x="110.9" y="482.7" font-family="Liberation Serif" font-size="22" fill="#000">DC offset</text>
<line x1="115" y1="487.7" x2="95.51" y2="506.75" stroke="#000" stroke-width="2.1"/><polygon points="88.5,513.6 93.93,502.28 99.94,508.43" fill="#000"/>
<text x="546.3" y="554" font-family="Liberation Serif" font-weight="bold" font-size="22" fill="#000">(10ms/div)</text>
<text x="89.8" y="630.8" font-family="Liberation Serif" font-size="30.18" fill="#000">(b) FFT analysis result of the actual current</text>
</svg>
</body></html>
